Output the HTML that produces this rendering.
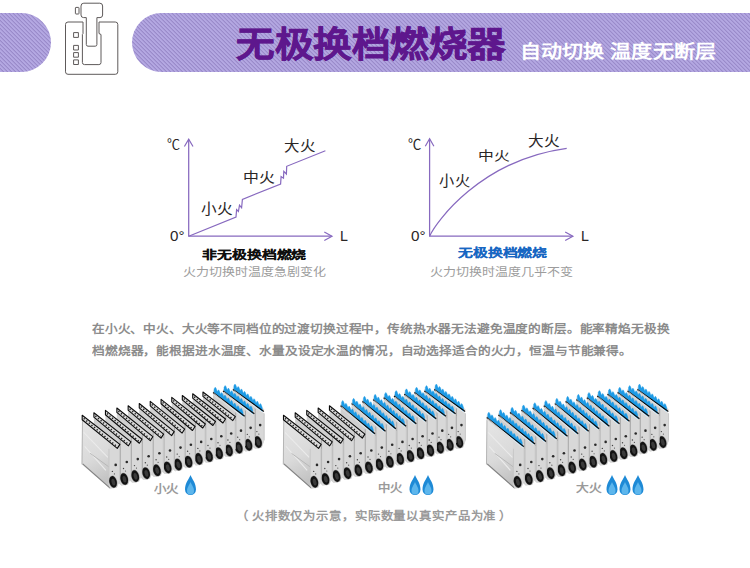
<!DOCTYPE html>
<html lang="zh-CN"><head><meta charset="utf-8">
<style>
*{margin:0;padding:0;box-sizing:border-box}
html,body{width:750px;height:568px;overflow:hidden;background:#fff}
body{position:relative;font-family:"Liberation Sans",sans-serif}
.stripe{background:repeating-linear-gradient(45deg,#b4a8e2 0,#b4a8e2 1.1px,#9a8bca 1.7px,#9a8bca 2.2px,#b4a8e2 2.83px)}
.pill1{position:absolute;left:-31px;top:13px;width:82px;height:59px;border-radius:30px}
.pill2{position:absolute;left:132px;top:13px;width:660px;height:59px;border-radius:30px}
svg{position:absolute;left:0;top:0}
.t{position:absolute;white-space:nowrap;transform-origin:0 0;line-height:normal}
</style></head><body>
<div class="pill1 stripe"></div>
<div class="pill2 stripe"></div>
<svg width="750" height="568" viewBox="0 0 750 568">
<defs>
<linearGradient id="sidea" x1="0" y1="0" x2="0.3" y2="1"><stop offset="0" stop-color="#e6e6e6"/><stop offset="0.6" stop-color="#dadada"/><stop offset="1" stop-color="#c2c2c2"/></linearGradient>
<linearGradient id="sideb" x1="0" y1="0" x2="0.3" y2="1"><stop offset="0" stop-color="#e6e6e6"/><stop offset="0.6" stop-color="#dadada"/><stop offset="1" stop-color="#c2c2c2"/></linearGradient>
<linearGradient id="sidec" x1="0" y1="0" x2="0.3" y2="1"><stop offset="0" stop-color="#e6e6e6"/><stop offset="0.6" stop-color="#dadada"/><stop offset="1" stop-color="#c2c2c2"/></linearGradient>
</defs>
<!-- shifter icon -->
<g fill="none" stroke="#5e5a5a" stroke-width="1" stroke-linejoin="round">
<path d="M83,22 H68 Q65.5,22 65.5,24.5 V71.8 Q65.5,74.3 68,74.3 H115.3 Q117.8,74.3 117.8,71.8 V24.5 Q117.8,22 115.3,22 H99"/>
<path d="M83,22 V33.5 L82.4,34.5 V62.5 Q82.4,64.6 84.5,64.6 H98.9 Q101,64.6 101,62.5 V34.5 L99,33.5 V22"/>
<path d="M86.3,17.6 V44.5 Q86.3,46.2 88,46.2 H95.2 Q96.9,46.2 96.9,44.5 V17.6 H100 Q102.6,17.6 102.6,15 V6 Q102.6,3.2 99.8,3.2 H83.8 Q81,3.2 81,6 V15 Q81,17.6 83.6,17.6 Z"/>
<rect x="75.4" y="7.4" width="3.6" height="6.6" rx="0.6"/>
<rect x="73.6" y="32.6" width="4.8" height="4.8"/>
<rect x="73.6" y="45.4" width="4.8" height="4.6"/>
<rect x="73.6" y="52.6" width="4.8" height="4.6"/>
<rect x="73.6" y="59.9" width="4.8" height="4.6"/>
</g>
<path d="M188.7,236.8 V139.6 M188.1,236.2 H331.5" stroke="#8769bf" stroke-width="1.25" fill="none"/><path d="M184.4,146.5 L188.7,139.1 L193,146.5" stroke="#8769bf" stroke-width="1.2" fill="none" stroke-linejoin="miter"/><path d="M324.3,231.9 L332,236.2 L324.3,240.5" stroke="#8769bf" stroke-width="1.2" fill="none" stroke-linejoin="miter"/><path d="M429.6,236.8 V139.3 M429,236.2 H572.4" stroke="#8769bf" stroke-width="1.25" fill="none"/><path d="M425.3,146.2 L429.6,138.8 L433.9,146.2" stroke="#8769bf" stroke-width="1.2" fill="none" stroke-linejoin="miter"/><path d="M565.2,231.9 L572.9,236.2 L565.2,240.5" stroke="#8769bf" stroke-width="1.2" fill="none" stroke-linejoin="miter"/><path d="M188.7,236.2 L236.0,217.0 L236.6,209.7 L238.4,211.5 L239.5,205.2 L241.6,207.8 L242.4,199.4 L280.6,184 L281.1,176.6 L283.5,178.2 L283.8,171.3 L286.4,174 L286.7,166.3 L325.4,150.7" stroke="#8769bf" stroke-width="1.2" fill="none" stroke-linejoin="miter" stroke-miterlimit="10"/><path d="M429.6,236.2 C436.07,222.03 480.51,159.97 566.7,148.3" stroke="#8769bf" stroke-width="1.2" fill="none"/>
<polygon points="232.85,391.66 264.38,413.6 264.38,440.08 261.8,447.58 255,448.68 232.35,429.26" fill="#d0d0d0"/>
<polygon points="254.84,406.93 264.38,413.6 264.38,440.08 261.8,447.58 255,448.68 254.84,444.08" fill="#d8d8d8"/>
<path d="M255.19,406.93 V443.08" stroke="#8f8f8f" stroke-width="0.7"/>
<path d="M264.08,413.6 V440.08" stroke="#c0c0c0" stroke-width="0.6"/>
<circle cx="260.18" cy="425.08" r="1.3" fill="#2a2a2a"/>
<circle cx="256.88" cy="431.58" r="0.7" fill="#444"/>
<circle cx="258.88" cy="434.08" r="0.6" fill="#555"/>
<ellipse cx="258" cy="442.08" rx="4.2" ry="6.4" fill="#a0a0a0" transform="rotate(-14 258 442.08)"/>
<ellipse cx="258" cy="442.08" rx="3.7" ry="5.9" fill="#121212" transform="rotate(-14 258 442.08)"/>
<ellipse cx="258.2" cy="442.38" rx="1.8" ry="3.4" fill="#3a3a3a" transform="rotate(-14 258 442.08)"/>
<polygon points="232.85,387.26 264.38,409.2 261.78,413.2 232.85,391.66" fill="#d9d9d9"/>
<polygon points="233.85,389.46 233.85,385.86 234.96,384.01 235.75,384.92 236.86,387.88 237.02,388.3 238.13,386.45 238.92,387.36 240.03,390.31 240.19,390.74 241.3,388.89 242.09,389.8 243.2,392.75 243.36,393.17 244.47,391.33 245.26,392.24 246.37,395.19 246.53,395.61 247.64,393.77 248.43,394.67 249.54,397.63 249.7,398.05 250.81,396.2 251.6,397.11 252.71,400.07 252.87,400.49 253.98,398.64 254.77,399.55 255.88,402.5 256.04,402.93 257.15,401.08 257.94,401.99 259.05,404.94 259.21,405.36 260.32,403.52 261.11,404.43 262.22,407.38 262.38,411.4" fill="#1d9ae5" stroke="#1d9ae5" stroke-width="0.4" stroke-linejoin="round"/>
<path d="M232.85,389.46 L263.88,411.4" stroke="#0e0e0e" stroke-width="1.2"/>
<path d="M233.85,390.56 L262.88,412.5" stroke="#f2f2f2" stroke-width="0.7"/>
<polygon points="223.03,393.16 254.84,416.05 254.84,442.86 252.23,450.36 245.43,451.46 222.53,431.26" fill="#d0d0d0"/>
<polygon points="245.18,409.29 254.84,416.05 254.84,442.86 252.23,450.36 245.43,451.46 245.18,446.86" fill="#d8d8d8"/>
<path d="M245.53,409.29 V445.86" stroke="#8f8f8f" stroke-width="0.7"/>
<path d="M254.54,416.05 V442.86" stroke="#c0c0c0" stroke-width="0.6"/>
<circle cx="250.64" cy="427.86" r="1.3" fill="#2a2a2a"/>
<circle cx="247.34" cy="434.36" r="0.7" fill="#444"/>
<circle cx="249.34" cy="436.86" r="0.6" fill="#555"/>
<ellipse cx="248.43" cy="444.86" rx="4.2" ry="6.4" fill="#a0a0a0" transform="rotate(-14 248.43 444.86)"/>
<ellipse cx="248.43" cy="444.86" rx="3.7" ry="5.9" fill="#121212" transform="rotate(-14 248.43 444.86)"/>
<ellipse cx="248.63" cy="445.16" rx="1.8" ry="3.4" fill="#3a3a3a" transform="rotate(-14 248.43 444.86)"/>
<polygon points="223.03,388.76 254.84,411.65 252.24,415.65 223.03,393.16" fill="#d9d9d9"/>
<polygon points="224.03,390.96 224.03,387.36 225.15,385.55 225.95,386.48 227.07,389.47 227.23,389.9 228.35,388.09 229.15,389.03 230.28,392.02 230.44,392.45 231.56,390.64 232.36,391.57 233.48,394.56 233.64,394.99 234.76,393.18 235.56,394.11 236.68,397.1 236.84,397.53 237.96,395.72 238.76,396.66 239.88,399.65 240.04,400.07 241.16,398.26 241.96,399.2 243.08,402.19 243.24,402.62 244.36,400.81 245.16,401.74 246.28,404.73 246.44,405.16 247.56,403.35 248.36,404.29 249.48,407.28 249.64,407.7 250.76,405.89 251.56,406.83 252.68,409.82 252.84,413.85" fill="#1d9ae5" stroke="#1d9ae5" stroke-width="0.4" stroke-linejoin="round"/>
<path d="M223.03,390.96 L254.34,413.85" stroke="#0e0e0e" stroke-width="1.2"/>
<path d="M224.03,392.06 L253.34,414.95" stroke="#f2f2f2" stroke-width="0.7"/>
<polygon points="213.07,394.74 245.18,418.5 245.18,445.64 242.54,453.14 235.74,454.24 212.57,433.34" fill="#d0d0d0"/>
<polygon points="235.41,411.66 245.18,418.5 245.18,445.64 242.54,453.14 235.74,454.24 235.41,449.64" fill="#d8d8d8"/>
<path d="M235.76,411.66 V448.64" stroke="#8f8f8f" stroke-width="0.7"/>
<path d="M244.88,418.5 V445.64" stroke="#c0c0c0" stroke-width="0.6"/>
<circle cx="240.98" cy="430.64" r="1.3" fill="#2a2a2a"/>
<circle cx="237.68" cy="437.14" r="0.7" fill="#444"/>
<circle cx="239.68" cy="439.64" r="0.6" fill="#555"/>
<ellipse cx="238.74" cy="447.64" rx="4.2" ry="6.4" fill="#a0a0a0" transform="rotate(-14 238.74 447.64)"/>
<ellipse cx="238.74" cy="447.64" rx="3.7" ry="5.9" fill="#121212" transform="rotate(-14 238.74 447.64)"/>
<ellipse cx="238.94" cy="447.94" rx="1.8" ry="3.4" fill="#3a3a3a" transform="rotate(-14 238.74 447.64)"/>
<polygon points="213.07,390.34 245.18,414.1 242.58,418.1 213.07,394.74" fill="#d9d9d9"/>
<polygon points="214.07,392.54 214.07,388.94 215.2,387.16 216.01,388.12 217.14,391.14 217.31,391.58 218.44,389.8 219.25,390.76 220.38,393.78 220.54,394.22 221.67,392.44 222.48,393.4 223.61,396.43 223.78,396.86 224.91,395.08 225.72,396.04 226.85,399.07 227.01,399.5 228.14,397.72 228.95,398.68 230.08,401.71 230.25,402.14 231.38,400.36 232.19,401.32 233.32,404.35 233.48,404.78 234.61,403 235.42,403.96 236.55,406.99 236.71,407.42 237.85,405.64 238.66,406.6 239.79,409.63 239.95,410.06 241.08,408.28 241.89,409.24 243.02,412.27 243.18,416.3" fill="#1d9ae5" stroke="#1d9ae5" stroke-width="0.4" stroke-linejoin="round"/>
<path d="M213.07,392.54 L244.68,416.3" stroke="#0e0e0e" stroke-width="1.2"/>
<path d="M214.07,393.64 L243.68,417.4" stroke="#f2f2f2" stroke-width="0.7"/>
<polygon points="202.96,396.39 235.41,420.97 235.41,448.44 232.74,455.94 225.94,457.04 202.46,435.49" fill="#d0d0d0"/>
<polygon points="225.51,414.04 235.41,420.97 235.41,448.44 232.74,455.94 225.94,457.04 225.51,452.44" fill="#d8d8d8"/>
<path d="M225.86,414.04 V451.44" stroke="#8f8f8f" stroke-width="0.7"/>
<path d="M235.11,420.97 V448.44" stroke="#c0c0c0" stroke-width="0.6"/>
<circle cx="231.21" cy="433.44" r="1.3" fill="#2a2a2a"/>
<circle cx="227.91" cy="439.94" r="0.7" fill="#444"/>
<circle cx="229.91" cy="442.44" r="0.6" fill="#555"/>
<ellipse cx="228.94" cy="450.44" rx="4.2" ry="6.4" fill="#a0a0a0" transform="rotate(-14 228.94 450.44)"/>
<ellipse cx="228.94" cy="450.44" rx="3.7" ry="5.9" fill="#121212" transform="rotate(-14 228.94 450.44)"/>
<ellipse cx="229.14" cy="450.74" rx="1.8" ry="3.4" fill="#3a3a3a" transform="rotate(-14 228.94 450.44)"/>
<polygon points="202.96,391.99 235.41,416.57 232.81,420.57 202.96,396.39" fill="#dadada" stroke="#0a0a0a" stroke-width="1.1" stroke-linejoin="round"/>
<path d="M204.46,395.09 L232.41,418.67" stroke="#262626" stroke-width="1.5" stroke-dasharray="1.3 2.1" fill="none"/>
<polygon points="192.71,398.12 225.51,423.44 225.51,451.24 222.81,458.74 216.01,459.84 192.21,437.72" fill="#d0d0d0"/>
<polygon points="215.49,416.43 225.51,423.44 225.51,451.24 222.81,458.74 216.01,459.84 215.49,455.24" fill="#d8d8d8"/>
<path d="M215.84,416.43 V454.24" stroke="#8f8f8f" stroke-width="0.7"/>
<path d="M225.21,423.44 V451.24" stroke="#c0c0c0" stroke-width="0.6"/>
<circle cx="221.31" cy="436.24" r="1.3" fill="#2a2a2a"/>
<circle cx="218.01" cy="442.74" r="0.7" fill="#444"/>
<circle cx="220.01" cy="445.24" r="0.6" fill="#555"/>
<ellipse cx="219.01" cy="453.24" rx="4.2" ry="6.4" fill="#a0a0a0" transform="rotate(-14 219.01 453.24)"/>
<ellipse cx="219.01" cy="453.24" rx="3.7" ry="5.9" fill="#121212" transform="rotate(-14 219.01 453.24)"/>
<ellipse cx="219.21" cy="453.54" rx="1.8" ry="3.4" fill="#3a3a3a" transform="rotate(-14 219.01 453.24)"/>
<polygon points="192.71,393.72 225.51,419.04 222.91,423.04 192.71,398.12" fill="#dadada" stroke="#0a0a0a" stroke-width="1.1" stroke-linejoin="round"/>
<path d="M194.21,396.82 L222.51,421.14" stroke="#262626" stroke-width="1.5" stroke-dasharray="1.3 2.1" fill="none"/>
<polygon points="182.31,399.93 215.49,425.93 215.49,454.06 212.76,461.56 205.96,462.66 181.81,440.03" fill="#d0d0d0"/>
<polygon points="205.35,418.83 215.49,425.93 215.49,454.06 212.76,461.56 205.96,462.66 205.35,458.06" fill="#d8d8d8"/>
<path d="M205.7,418.83 V457.06" stroke="#8f8f8f" stroke-width="0.7"/>
<path d="M215.19,425.93 V454.06" stroke="#c0c0c0" stroke-width="0.6"/>
<circle cx="211.29" cy="439.06" r="1.3" fill="#2a2a2a"/>
<circle cx="207.99" cy="445.56" r="0.7" fill="#444"/>
<circle cx="209.99" cy="448.06" r="0.6" fill="#555"/>
<ellipse cx="208.96" cy="456.06" rx="4.2" ry="6.4" fill="#a0a0a0" transform="rotate(-14 208.96 456.06)"/>
<ellipse cx="208.96" cy="456.06" rx="3.7" ry="5.9" fill="#121212" transform="rotate(-14 208.96 456.06)"/>
<ellipse cx="209.16" cy="456.36" rx="1.8" ry="3.4" fill="#3a3a3a" transform="rotate(-14 208.96 456.06)"/>
<polygon points="182.31,395.53 215.49,421.53 212.89,425.53 182.31,399.93" fill="#dadada" stroke="#0a0a0a" stroke-width="1.1" stroke-linejoin="round"/>
<path d="M183.81,398.63 L212.49,423.63" stroke="#262626" stroke-width="1.5" stroke-dasharray="1.3 2.1" fill="none"/>
<polygon points="171.77,401.82 205.35,428.43 205.35,456.89 202.59,464.39 195.79,465.49 171.27,442.42" fill="#d0d0d0"/>
<polygon points="195.09,421.25 205.35,428.43 205.35,456.89 202.59,464.39 195.79,465.49 195.09,460.89" fill="#d8d8d8"/>
<path d="M195.44,421.25 V459.89" stroke="#8f8f8f" stroke-width="0.7"/>
<path d="M205.05,428.43 V456.89" stroke="#c0c0c0" stroke-width="0.6"/>
<circle cx="201.15" cy="441.89" r="1.3" fill="#2a2a2a"/>
<circle cx="197.85" cy="448.39" r="0.7" fill="#444"/>
<circle cx="199.85" cy="450.89" r="0.6" fill="#555"/>
<ellipse cx="198.79" cy="458.89" rx="4.2" ry="6.4" fill="#a0a0a0" transform="rotate(-14 198.79 458.89)"/>
<ellipse cx="198.79" cy="458.89" rx="3.7" ry="5.9" fill="#121212" transform="rotate(-14 198.79 458.89)"/>
<ellipse cx="198.99" cy="459.19" rx="1.8" ry="3.4" fill="#3a3a3a" transform="rotate(-14 198.79 458.89)"/>
<polygon points="171.77,397.42 205.35,424.03 202.75,428.03 171.77,401.82" fill="#dadada" stroke="#0a0a0a" stroke-width="1.1" stroke-linejoin="round"/>
<path d="M173.27,400.52 L202.35,426.13" stroke="#262626" stroke-width="1.5" stroke-dasharray="1.3 2.1" fill="none"/>
<polygon points="161.08,403.78 195.09,430.94 195.09,459.73 192.3,467.23 185.5,468.33 160.58,444.88" fill="#d0d0d0"/>
<polygon points="184.71,423.67 195.09,430.94 195.09,459.73 192.3,467.23 185.5,468.33 184.71,463.73" fill="#d8d8d8"/>
<path d="M185.06,423.67 V462.73" stroke="#8f8f8f" stroke-width="0.7"/>
<path d="M194.79,430.94 V459.73" stroke="#c0c0c0" stroke-width="0.6"/>
<circle cx="190.89" cy="444.73" r="1.3" fill="#2a2a2a"/>
<circle cx="187.59" cy="451.23" r="0.7" fill="#444"/>
<circle cx="189.59" cy="453.73" r="0.6" fill="#555"/>
<ellipse cx="188.5" cy="461.73" rx="4.2" ry="6.4" fill="#a0a0a0" transform="rotate(-14 188.5 461.73)"/>
<ellipse cx="188.5" cy="461.73" rx="3.7" ry="5.9" fill="#121212" transform="rotate(-14 188.5 461.73)"/>
<ellipse cx="188.7" cy="462.03" rx="1.8" ry="3.4" fill="#3a3a3a" transform="rotate(-14 188.5 461.73)"/>
<polygon points="161.08,399.38 195.09,426.54 192.49,430.54 161.08,403.78" fill="#dadada" stroke="#0a0a0a" stroke-width="1.1" stroke-linejoin="round"/>
<path d="M162.58,402.48 L192.09,428.64" stroke="#262626" stroke-width="1.5" stroke-dasharray="1.3 2.1" fill="none"/>
<polygon points="150.24,405.82 184.71,433.46 184.71,462.58 181.89,470.08 175.09,471.18 149.74,447.42" fill="#d0d0d0"/>
<polygon points="174.21,426.11 184.71,433.46 184.71,462.58 181.89,470.08 175.09,471.18 174.21,466.58" fill="#d8d8d8"/>
<path d="M174.56,426.11 V465.58" stroke="#8f8f8f" stroke-width="0.7"/>
<path d="M184.41,433.46 V462.58" stroke="#c0c0c0" stroke-width="0.6"/>
<circle cx="180.51" cy="447.58" r="1.3" fill="#2a2a2a"/>
<circle cx="177.21" cy="454.08" r="0.7" fill="#444"/>
<circle cx="179.21" cy="456.58" r="0.6" fill="#555"/>
<ellipse cx="178.09" cy="464.58" rx="4.2" ry="6.4" fill="#a0a0a0" transform="rotate(-14 178.09 464.58)"/>
<ellipse cx="178.09" cy="464.58" rx="3.7" ry="5.9" fill="#121212" transform="rotate(-14 178.09 464.58)"/>
<ellipse cx="178.29" cy="464.88" rx="1.8" ry="3.4" fill="#3a3a3a" transform="rotate(-14 178.09 464.58)"/>
<polygon points="150.24,401.42 184.71,429.06 182.11,433.06 150.24,405.82" fill="#dadada" stroke="#0a0a0a" stroke-width="1.1" stroke-linejoin="round"/>
<path d="M151.74,404.52 L181.71,431.16" stroke="#262626" stroke-width="1.5" stroke-dasharray="1.3 2.1" fill="none"/>
<polygon points="139.26,407.94 174.21,435.99 174.21,465.44 171.36,472.94 164.56,474.04 138.76,450.04" fill="#d0d0d0"/>
<polygon points="163.59,428.55 174.21,435.99 174.21,465.44 171.36,472.94 164.56,474.04 163.59,469.44" fill="#d8d8d8"/>
<path d="M163.94,428.55 V468.44" stroke="#8f8f8f" stroke-width="0.7"/>
<path d="M173.91,435.99 V465.44" stroke="#c0c0c0" stroke-width="0.6"/>
<circle cx="170.01" cy="450.44" r="1.3" fill="#2a2a2a"/>
<circle cx="166.71" cy="456.94" r="0.7" fill="#444"/>
<circle cx="168.71" cy="459.44" r="0.6" fill="#555"/>
<ellipse cx="167.56" cy="467.44" rx="4.2" ry="6.4" fill="#a0a0a0" transform="rotate(-14 167.56 467.44)"/>
<ellipse cx="167.56" cy="467.44" rx="3.7" ry="5.9" fill="#121212" transform="rotate(-14 167.56 467.44)"/>
<ellipse cx="167.76" cy="467.74" rx="1.8" ry="3.4" fill="#3a3a3a" transform="rotate(-14 167.56 467.44)"/>
<polygon points="139.26,403.54 174.21,431.59 171.61,435.59 139.26,407.94" fill="#dadada" stroke="#0a0a0a" stroke-width="1.1" stroke-linejoin="round"/>
<path d="M140.76,406.64 L171.21,433.69" stroke="#262626" stroke-width="1.5" stroke-dasharray="1.3 2.1" fill="none"/>
<polygon points="128.14,410.14 163.59,438.53 163.59,468.31 160.71,475.81 153.91,476.91 127.64,452.74" fill="#d0d0d0"/>
<polygon points="152.84,431.01 163.59,438.53 163.59,468.31 160.71,475.81 153.91,476.91 152.84,472.31" fill="#d8d8d8"/>
<path d="M153.19,431.01 V471.31" stroke="#8f8f8f" stroke-width="0.7"/>
<path d="M163.29,438.53 V468.31" stroke="#c0c0c0" stroke-width="0.6"/>
<circle cx="159.39" cy="453.31" r="1.3" fill="#2a2a2a"/>
<circle cx="156.09" cy="459.81" r="0.7" fill="#444"/>
<circle cx="158.09" cy="462.31" r="0.6" fill="#555"/>
<ellipse cx="156.91" cy="470.31" rx="4.2" ry="6.4" fill="#a0a0a0" transform="rotate(-14 156.91 470.31)"/>
<ellipse cx="156.91" cy="470.31" rx="3.7" ry="5.9" fill="#121212" transform="rotate(-14 156.91 470.31)"/>
<ellipse cx="157.11" cy="470.61" rx="1.8" ry="3.4" fill="#3a3a3a" transform="rotate(-14 156.91 470.31)"/>
<polygon points="128.14,405.74 163.59,434.13 160.99,438.13 128.14,410.14" fill="#dadada" stroke="#0a0a0a" stroke-width="1.1" stroke-linejoin="round"/>
<path d="M129.64,408.84 L160.59,436.23" stroke="#262626" stroke-width="1.5" stroke-dasharray="1.3 2.1" fill="none"/>
<polygon points="116.87,412.41 152.84,441.08 152.84,471.19 149.93,478.69 143.13,479.79 116.37,455.51" fill="#d0d0d0"/>
<polygon points="141.98,433.48 152.84,441.08 152.84,471.19 149.93,478.69 143.13,479.79 141.98,475.19" fill="#d8d8d8"/>
<path d="M142.33,433.48 V474.19" stroke="#8f8f8f" stroke-width="0.7"/>
<path d="M152.54,441.08 V471.19" stroke="#c0c0c0" stroke-width="0.6"/>
<circle cx="148.64" cy="456.19" r="1.3" fill="#2a2a2a"/>
<circle cx="145.34" cy="462.69" r="0.7" fill="#444"/>
<circle cx="147.34" cy="465.19" r="0.6" fill="#555"/>
<ellipse cx="146.13" cy="473.19" rx="4.2" ry="6.4" fill="#a0a0a0" transform="rotate(-14 146.13 473.19)"/>
<ellipse cx="146.13" cy="473.19" rx="3.7" ry="5.9" fill="#121212" transform="rotate(-14 146.13 473.19)"/>
<ellipse cx="146.33" cy="473.49" rx="1.8" ry="3.4" fill="#3a3a3a" transform="rotate(-14 146.13 473.19)"/>
<polygon points="116.87,408.01 152.84,436.68 150.24,440.68 116.87,412.41" fill="#dadada" stroke="#0a0a0a" stroke-width="1.1" stroke-linejoin="round"/>
<path d="M118.37,411.11 L149.84,438.78" stroke="#262626" stroke-width="1.5" stroke-dasharray="1.3 2.1" fill="none"/>
<polygon points="105.45,414.76 141.98,443.64 141.98,474.08 139.04,481.58 132.24,482.68 104.95,458.36" fill="#d0d0d0"/>
<polygon points="131,435.95 141.98,443.64 141.98,474.08 139.04,481.58 132.24,482.68 131,478.08" fill="#d8d8d8"/>
<path d="M131.35,435.95 V477.08" stroke="#8f8f8f" stroke-width="0.7"/>
<path d="M141.68,443.64 V474.08" stroke="#c0c0c0" stroke-width="0.6"/>
<circle cx="137.78" cy="459.08" r="1.3" fill="#2a2a2a"/>
<circle cx="134.48" cy="465.58" r="0.7" fill="#444"/>
<circle cx="136.48" cy="468.08" r="0.6" fill="#555"/>
<ellipse cx="135.24" cy="476.08" rx="4.2" ry="6.4" fill="#a0a0a0" transform="rotate(-14 135.24 476.08)"/>
<ellipse cx="135.24" cy="476.08" rx="3.7" ry="5.9" fill="#121212" transform="rotate(-14 135.24 476.08)"/>
<ellipse cx="135.44" cy="476.38" rx="1.8" ry="3.4" fill="#3a3a3a" transform="rotate(-14 135.24 476.08)"/>
<polygon points="105.45,410.36 141.98,439.24 139.38,443.24 105.45,414.76" fill="#dadada" stroke="#0a0a0a" stroke-width="1.1" stroke-linejoin="round"/>
<path d="M106.95,413.46 L138.98,441.34" stroke="#262626" stroke-width="1.5" stroke-dasharray="1.3 2.1" fill="none"/>
<polygon points="93.89,417.19 131,446.22 131,476.99 128.03,484.49 121.23,485.59 93.39,461.29" fill="#d0d0d0"/>
<polygon points="119.89,438.44 131,446.22 131,476.99 128.03,484.49 121.23,485.59 119.89,480.99" fill="#d8d8d8"/>
<path d="M120.24,438.44 V479.99" stroke="#8f8f8f" stroke-width="0.7"/>
<path d="M130.7,446.22 V476.99" stroke="#c0c0c0" stroke-width="0.6"/>
<circle cx="126.8" cy="461.99" r="1.3" fill="#2a2a2a"/>
<circle cx="123.5" cy="468.49" r="0.7" fill="#444"/>
<circle cx="125.5" cy="470.99" r="0.6" fill="#555"/>
<ellipse cx="124.23" cy="478.99" rx="4.2" ry="6.4" fill="#a0a0a0" transform="rotate(-14 124.23 478.99)"/>
<ellipse cx="124.23" cy="478.99" rx="3.7" ry="5.9" fill="#121212" transform="rotate(-14 124.23 478.99)"/>
<ellipse cx="124.43" cy="479.29" rx="1.8" ry="3.4" fill="#3a3a3a" transform="rotate(-14 124.23 478.99)"/>
<polygon points="93.89,412.79 131,441.82 128.4,445.82 93.89,417.19" fill="#dadada" stroke="#0a0a0a" stroke-width="1.1" stroke-linejoin="round"/>
<path d="M95.39,415.89 L128,443.92" stroke="#262626" stroke-width="1.5" stroke-dasharray="1.3 2.1" fill="none"/>
<polygon points="82.18,419.7 119.89,448.8 119.89,479.9 116.89,487.4 110.09,488.5 81.68,464.3" fill="url(#sidea)"/>
<path d="M83.68,432.3 L107.89,457.4 M84.68,446.3 L105.89,470.4" stroke="#ebebeb" stroke-width="1.1" fill="none"/>
<path d="M90.18,453.3 L110.89,468.4" stroke="#b8b8b8" stroke-width="1" fill="none"/>
<path d="M82.68,463.8 L110.09,488.1" stroke="#808080" stroke-width="1.1" fill="none"/>
<path d="M82.48,419.7 L81.98,464.3" stroke="#a0a0a0" stroke-width="0.7" fill="none"/>
<polygon points="108.59,440.89 119.89,448.8 119.89,479.9 116.89,487.4 110.09,488.5 108.59,483.9" fill="#d8d8d8"/>
<path d="M108.94,448.8 V482.9" stroke="#bdbdbd" stroke-width="0.6"/>
<path d="M119.59,448.8 V479.9" stroke="#c0c0c0" stroke-width="0.6"/>
<circle cx="115.69" cy="464.9" r="1.3" fill="#2a2a2a"/>
<circle cx="112.39" cy="471.4" r="0.7" fill="#444"/>
<circle cx="114.39" cy="473.9" r="0.6" fill="#555"/>
<ellipse cx="113.09" cy="481.9" rx="4.2" ry="6.4" fill="#a0a0a0" transform="rotate(-14 113.09 481.9)"/>
<ellipse cx="113.09" cy="481.9" rx="3.7" ry="5.9" fill="#121212" transform="rotate(-14 113.09 481.9)"/>
<ellipse cx="113.29" cy="482.2" rx="1.8" ry="3.4" fill="#3a3a3a" transform="rotate(-14 113.09 481.9)"/>
<polygon points="82.18,415.3 119.89,444.4 117.29,448.4 82.18,419.7" fill="#dadada" stroke="#0a0a0a" stroke-width="1.1" stroke-linejoin="round"/>
<path d="M83.68,418.4 L116.89,446.5" stroke="#262626" stroke-width="1.5" stroke-dasharray="1.3 2.1" fill="none"/>
<polygon points="434.15,391.66 465.68,413.6 465.68,440.08 463.1,447.58 456.3,448.68 433.65,429.26" fill="#d0d0d0"/>
<polygon points="456.14,406.93 465.68,413.6 465.68,440.08 463.1,447.58 456.3,448.68 456.14,444.08" fill="#d8d8d8"/>
<path d="M456.49,406.93 V443.08" stroke="#8f8f8f" stroke-width="0.7"/>
<path d="M465.38,413.6 V440.08" stroke="#c0c0c0" stroke-width="0.6"/>
<circle cx="461.48" cy="425.08" r="1.3" fill="#2a2a2a"/>
<circle cx="458.18" cy="431.58" r="0.7" fill="#444"/>
<circle cx="460.18" cy="434.08" r="0.6" fill="#555"/>
<ellipse cx="459.3" cy="442.08" rx="4.2" ry="6.4" fill="#a0a0a0" transform="rotate(-14 459.3 442.08)"/>
<ellipse cx="459.3" cy="442.08" rx="3.7" ry="5.9" fill="#121212" transform="rotate(-14 459.3 442.08)"/>
<ellipse cx="459.5" cy="442.38" rx="1.8" ry="3.4" fill="#3a3a3a" transform="rotate(-14 459.3 442.08)"/>
<polygon points="434.15,387.26 465.68,409.2 463.08,413.2 434.15,391.66" fill="#d9d9d9"/>
<polygon points="435.15,389.46 435.15,385.86 436.26,384.01 437.05,384.92 438.16,387.88 438.32,388.3 439.43,386.45 440.22,387.36 441.33,390.31 441.49,390.74 442.6,388.89 443.39,389.8 444.5,392.75 444.66,393.17 445.77,391.33 446.56,392.24 447.67,395.19 447.83,395.61 448.94,393.77 449.73,394.67 450.84,397.63 451,398.05 452.11,396.2 452.9,397.11 454.01,400.07 454.17,400.49 455.28,398.64 456.07,399.55 457.18,402.5 457.34,402.93 458.45,401.08 459.24,401.99 460.35,404.94 460.51,405.36 461.62,403.52 462.41,404.43 463.52,407.38 463.68,411.4" fill="#1d9ae5" stroke="#1d9ae5" stroke-width="0.4" stroke-linejoin="round"/>
<path d="M434.15,389.46 L465.18,411.4" stroke="#0e0e0e" stroke-width="1.2"/>
<path d="M435.15,390.56 L464.18,412.5" stroke="#f2f2f2" stroke-width="0.7"/>
<polygon points="424.33,393.16 456.14,416.05 456.14,442.86 453.53,450.36 446.73,451.46 423.83,431.26" fill="#d0d0d0"/>
<polygon points="446.48,409.29 456.14,416.05 456.14,442.86 453.53,450.36 446.73,451.46 446.48,446.86" fill="#d8d8d8"/>
<path d="M446.83,409.29 V445.86" stroke="#8f8f8f" stroke-width="0.7"/>
<path d="M455.84,416.05 V442.86" stroke="#c0c0c0" stroke-width="0.6"/>
<circle cx="451.94" cy="427.86" r="1.3" fill="#2a2a2a"/>
<circle cx="448.64" cy="434.36" r="0.7" fill="#444"/>
<circle cx="450.64" cy="436.86" r="0.6" fill="#555"/>
<ellipse cx="449.73" cy="444.86" rx="4.2" ry="6.4" fill="#a0a0a0" transform="rotate(-14 449.73 444.86)"/>
<ellipse cx="449.73" cy="444.86" rx="3.7" ry="5.9" fill="#121212" transform="rotate(-14 449.73 444.86)"/>
<ellipse cx="449.93" cy="445.16" rx="1.8" ry="3.4" fill="#3a3a3a" transform="rotate(-14 449.73 444.86)"/>
<polygon points="424.33,388.76 456.14,411.65 453.54,415.65 424.33,393.16" fill="#d9d9d9"/>
<polygon points="425.33,390.96 425.33,387.36 426.45,385.55 427.25,386.48 428.37,389.47 428.53,389.9 429.65,388.09 430.45,389.03 431.58,392.02 431.74,392.45 432.86,390.64 433.66,391.57 434.78,394.56 434.94,394.99 436.06,393.18 436.86,394.11 437.98,397.1 438.14,397.53 439.26,395.72 440.06,396.66 441.18,399.65 441.34,400.07 442.46,398.26 443.26,399.2 444.38,402.19 444.54,402.62 445.66,400.81 446.46,401.74 447.58,404.73 447.74,405.16 448.86,403.35 449.66,404.29 450.78,407.28 450.94,407.7 452.06,405.89 452.86,406.83 453.98,409.82 454.14,413.85" fill="#1d9ae5" stroke="#1d9ae5" stroke-width="0.4" stroke-linejoin="round"/>
<path d="M424.33,390.96 L455.64,413.85" stroke="#0e0e0e" stroke-width="1.2"/>
<path d="M425.33,392.06 L454.64,414.95" stroke="#f2f2f2" stroke-width="0.7"/>
<polygon points="414.37,394.74 446.48,418.5 446.48,445.64 443.84,453.14 437.04,454.24 413.87,433.34" fill="#d0d0d0"/>
<polygon points="436.71,411.66 446.48,418.5 446.48,445.64 443.84,453.14 437.04,454.24 436.71,449.64" fill="#d8d8d8"/>
<path d="M437.06,411.66 V448.64" stroke="#8f8f8f" stroke-width="0.7"/>
<path d="M446.18,418.5 V445.64" stroke="#c0c0c0" stroke-width="0.6"/>
<circle cx="442.28" cy="430.64" r="1.3" fill="#2a2a2a"/>
<circle cx="438.98" cy="437.14" r="0.7" fill="#444"/>
<circle cx="440.98" cy="439.64" r="0.6" fill="#555"/>
<ellipse cx="440.04" cy="447.64" rx="4.2" ry="6.4" fill="#a0a0a0" transform="rotate(-14 440.04 447.64)"/>
<ellipse cx="440.04" cy="447.64" rx="3.7" ry="5.9" fill="#121212" transform="rotate(-14 440.04 447.64)"/>
<ellipse cx="440.24" cy="447.94" rx="1.8" ry="3.4" fill="#3a3a3a" transform="rotate(-14 440.04 447.64)"/>
<polygon points="414.37,390.34 446.48,414.1 443.88,418.1 414.37,394.74" fill="#d9d9d9"/>
<polygon points="415.37,392.54 415.37,388.94 416.5,387.16 417.31,388.12 418.44,391.14 418.61,391.58 419.74,389.8 420.55,390.76 421.68,393.78 421.84,394.22 422.97,392.44 423.78,393.4 424.91,396.43 425.08,396.86 426.21,395.08 427.02,396.04 428.15,399.07 428.31,399.5 429.44,397.72 430.25,398.68 431.38,401.71 431.55,402.14 432.68,400.36 433.49,401.32 434.62,404.35 434.78,404.78 435.91,403 436.72,403.96 437.85,406.99 438.01,407.42 439.15,405.64 439.96,406.6 441.09,409.63 441.25,410.06 442.38,408.28 443.19,409.24 444.32,412.27 444.48,416.3" fill="#1d9ae5" stroke="#1d9ae5" stroke-width="0.4" stroke-linejoin="round"/>
<path d="M414.37,392.54 L445.98,416.3" stroke="#0e0e0e" stroke-width="1.2"/>
<path d="M415.37,393.64 L444.98,417.4" stroke="#f2f2f2" stroke-width="0.7"/>
<polygon points="404.26,396.39 436.71,420.97 436.71,448.44 434.04,455.94 427.24,457.04 403.76,435.49" fill="#d0d0d0"/>
<polygon points="426.81,414.04 436.71,420.97 436.71,448.44 434.04,455.94 427.24,457.04 426.81,452.44" fill="#d8d8d8"/>
<path d="M427.16,414.04 V451.44" stroke="#8f8f8f" stroke-width="0.7"/>
<path d="M436.41,420.97 V448.44" stroke="#c0c0c0" stroke-width="0.6"/>
<circle cx="432.51" cy="433.44" r="1.3" fill="#2a2a2a"/>
<circle cx="429.21" cy="439.94" r="0.7" fill="#444"/>
<circle cx="431.21" cy="442.44" r="0.6" fill="#555"/>
<ellipse cx="430.24" cy="450.44" rx="4.2" ry="6.4" fill="#a0a0a0" transform="rotate(-14 430.24 450.44)"/>
<ellipse cx="430.24" cy="450.44" rx="3.7" ry="5.9" fill="#121212" transform="rotate(-14 430.24 450.44)"/>
<ellipse cx="430.44" cy="450.74" rx="1.8" ry="3.4" fill="#3a3a3a" transform="rotate(-14 430.24 450.44)"/>
<polygon points="404.26,391.99 436.71,416.57 434.11,420.57 404.26,396.39" fill="#d9d9d9"/>
<polygon points="405.26,394.19 405.26,390.59 406.41,388.84 407.23,389.83 408.37,392.88 408.53,393.32 409.68,391.58 410.5,392.56 411.64,395.61 411.81,396.05 412.95,394.31 413.77,395.29 414.91,398.35 415.08,398.78 416.22,397.04 417.04,398.02 418.19,401.08 418.35,401.51 419.49,399.77 420.31,400.75 421.46,403.81 421.62,404.24 422.77,402.5 423.58,403.48 424.73,406.54 424.89,406.97 426.04,405.23 426.86,406.21 428,409.27 428.16,409.71 429.31,407.96 430.13,408.94 431.27,412 431.44,412.44 432.58,410.69 433.4,411.67 434.54,414.73 434.71,418.77" fill="#1d9ae5" stroke="#1d9ae5" stroke-width="0.4" stroke-linejoin="round"/>
<path d="M404.26,394.19 L436.21,418.77" stroke="#0e0e0e" stroke-width="1.2"/>
<path d="M405.26,395.29 L435.21,419.87" stroke="#f2f2f2" stroke-width="0.7"/>
<polygon points="394.01,398.12 426.81,423.44 426.81,451.24 424.11,458.74 417.31,459.84 393.51,437.72" fill="#d0d0d0"/>
<polygon points="416.79,416.43 426.81,423.44 426.81,451.24 424.11,458.74 417.31,459.84 416.79,455.24" fill="#d8d8d8"/>
<path d="M417.14,416.43 V454.24" stroke="#8f8f8f" stroke-width="0.7"/>
<path d="M426.51,423.44 V451.24" stroke="#c0c0c0" stroke-width="0.6"/>
<circle cx="422.61" cy="436.24" r="1.3" fill="#2a2a2a"/>
<circle cx="419.31" cy="442.74" r="0.7" fill="#444"/>
<circle cx="421.31" cy="445.24" r="0.6" fill="#555"/>
<ellipse cx="420.31" cy="453.24" rx="4.2" ry="6.4" fill="#a0a0a0" transform="rotate(-14 420.31 453.24)"/>
<ellipse cx="420.31" cy="453.24" rx="3.7" ry="5.9" fill="#121212" transform="rotate(-14 420.31 453.24)"/>
<ellipse cx="420.51" cy="453.54" rx="1.8" ry="3.4" fill="#3a3a3a" transform="rotate(-14 420.31 453.24)"/>
<polygon points="394.01,393.72 426.81,419.04 424.21,423.04 394.01,398.12" fill="#d9d9d9"/>
<polygon points="395.01,395.92 395.01,392.32 396.17,390.6 397,391.61 398.16,394.69 398.32,395.13 399.48,393.42 400.31,394.42 401.47,397.51 401.63,397.95 402.79,396.23 403.62,397.24 404.78,400.32 404.94,400.76 406.1,399.05 406.93,400.05 408.09,403.13 408.25,403.58 409.41,401.86 410.24,402.86 411.4,405.95 411.57,406.39 412.72,404.67 413.55,405.68 414.71,408.76 414.88,409.2 416.04,407.49 416.86,408.49 418.02,411.58 418.19,412.02 419.35,410.3 420.17,411.3 421.33,414.39 421.5,414.83 422.66,413.12 423.49,414.12 424.64,417.2 424.81,421.24" fill="#1d9ae5" stroke="#1d9ae5" stroke-width="0.4" stroke-linejoin="round"/>
<path d="M394.01,395.92 L426.31,421.24" stroke="#0e0e0e" stroke-width="1.2"/>
<path d="M395.01,397.02 L425.31,422.34" stroke="#f2f2f2" stroke-width="0.7"/>
<polygon points="383.61,399.93 416.79,425.93 416.79,454.06 414.06,461.56 407.26,462.66 383.11,440.03" fill="#d0d0d0"/>
<polygon points="406.65,418.83 416.79,425.93 416.79,454.06 414.06,461.56 407.26,462.66 406.65,458.06" fill="#d8d8d8"/>
<path d="M407,418.83 V457.06" stroke="#8f8f8f" stroke-width="0.7"/>
<path d="M416.49,425.93 V454.06" stroke="#c0c0c0" stroke-width="0.6"/>
<circle cx="412.59" cy="439.06" r="1.3" fill="#2a2a2a"/>
<circle cx="409.29" cy="445.56" r="0.7" fill="#444"/>
<circle cx="411.29" cy="448.06" r="0.6" fill="#555"/>
<ellipse cx="410.26" cy="456.06" rx="4.2" ry="6.4" fill="#a0a0a0" transform="rotate(-14 410.26 456.06)"/>
<ellipse cx="410.26" cy="456.06" rx="3.7" ry="5.9" fill="#121212" transform="rotate(-14 410.26 456.06)"/>
<ellipse cx="410.46" cy="456.36" rx="1.8" ry="3.4" fill="#3a3a3a" transform="rotate(-14 410.26 456.06)"/>
<polygon points="383.61,395.53 416.79,421.53 414.19,425.53 383.61,399.93" fill="#d9d9d9"/>
<polygon points="384.61,397.73 384.61,394.13 385.78,392.44 386.62,393.46 387.8,396.57 387.96,397.02 389.14,395.33 389.98,396.35 391.15,399.46 391.32,399.91 392.49,398.22 393.33,399.24 394.5,402.35 394.67,402.8 395.85,401.11 396.68,402.13 397.86,405.24 398.02,405.69 399.2,404 400.04,405.02 401.21,408.13 401.38,408.57 402.55,406.89 403.39,407.91 404.56,411.02 404.73,411.46 405.91,409.78 406.74,410.8 407.92,413.91 408.08,414.35 409.26,412.66 410.1,413.69 411.27,416.8 411.44,417.24 412.61,415.55 413.45,416.58 414.62,419.69 414.79,423.73" fill="#1d9ae5" stroke="#1d9ae5" stroke-width="0.4" stroke-linejoin="round"/>
<path d="M383.61,397.73 L416.29,423.73" stroke="#0e0e0e" stroke-width="1.2"/>
<path d="M384.61,398.83 L415.29,424.83" stroke="#f2f2f2" stroke-width="0.7"/>
<polygon points="373.07,401.82 406.65,428.43 406.65,456.89 403.89,464.39 397.09,465.49 372.57,442.42" fill="#d0d0d0"/>
<polygon points="396.39,421.25 406.65,428.43 406.65,456.89 403.89,464.39 397.09,465.49 396.39,460.89" fill="#d8d8d8"/>
<path d="M396.74,421.25 V459.89" stroke="#8f8f8f" stroke-width="0.7"/>
<path d="M406.35,428.43 V456.89" stroke="#c0c0c0" stroke-width="0.6"/>
<circle cx="402.45" cy="441.89" r="1.3" fill="#2a2a2a"/>
<circle cx="399.15" cy="448.39" r="0.7" fill="#444"/>
<circle cx="401.15" cy="450.89" r="0.6" fill="#555"/>
<ellipse cx="400.09" cy="458.89" rx="4.2" ry="6.4" fill="#a0a0a0" transform="rotate(-14 400.09 458.89)"/>
<ellipse cx="400.09" cy="458.89" rx="3.7" ry="5.9" fill="#121212" transform="rotate(-14 400.09 458.89)"/>
<ellipse cx="400.29" cy="459.19" rx="1.8" ry="3.4" fill="#3a3a3a" transform="rotate(-14 400.09 458.89)"/>
<polygon points="373.07,397.42 406.65,424.03 404.05,428.03 373.07,401.82" fill="#d9d9d9"/>
<polygon points="374.07,399.62 374.07,396.02 375.14,394.25 375.9,395.21 376.97,398.24 377.13,398.68 378.2,396.91 378.96,397.87 380.03,400.91 380.18,401.34 381.25,399.57 382.02,400.53 383.09,403.57 383.24,404 384.31,402.23 385.08,403.2 386.15,406.23 386.3,406.66 387.37,404.89 388.14,405.86 389.21,408.89 389.36,409.32 390.43,407.55 391.19,408.52 392.27,411.55 392.42,411.98 393.49,410.22 394.25,411.18 395.32,414.21 395.48,414.65 396.55,412.88 397.31,413.84 398.38,416.87 398.54,417.31 399.61,415.54 400.37,416.5 401.44,419.54 401.59,419.97 402.66,418.2 403.43,419.17 404.5,422.2 404.65,426.23" fill="#1d9ae5" stroke="#1d9ae5" stroke-width="0.4" stroke-linejoin="round"/>
<path d="M373.07,399.62 L406.15,426.23" stroke="#0e0e0e" stroke-width="1.2"/>
<path d="M374.07,400.72 L405.15,427.33" stroke="#f2f2f2" stroke-width="0.7"/>
<polygon points="362.38,403.78 396.39,430.94 396.39,459.73 393.6,467.23 386.8,468.33 361.88,444.88" fill="#d0d0d0"/>
<polygon points="386.01,423.67 396.39,430.94 396.39,459.73 393.6,467.23 386.8,468.33 386.01,463.73" fill="#d8d8d8"/>
<path d="M386.36,423.67 V462.73" stroke="#8f8f8f" stroke-width="0.7"/>
<path d="M396.09,430.94 V459.73" stroke="#c0c0c0" stroke-width="0.6"/>
<circle cx="392.19" cy="444.73" r="1.3" fill="#2a2a2a"/>
<circle cx="388.89" cy="451.23" r="0.7" fill="#444"/>
<circle cx="390.89" cy="453.73" r="0.6" fill="#555"/>
<ellipse cx="389.8" cy="461.73" rx="4.2" ry="6.4" fill="#a0a0a0" transform="rotate(-14 389.8 461.73)"/>
<ellipse cx="389.8" cy="461.73" rx="3.7" ry="5.9" fill="#121212" transform="rotate(-14 389.8 461.73)"/>
<ellipse cx="390" cy="462.03" rx="1.8" ry="3.4" fill="#3a3a3a" transform="rotate(-14 389.8 461.73)"/>
<polygon points="362.38,399.38 396.39,426.54 393.79,430.54 362.38,403.78" fill="#d9d9d9"/>
<polygon points="363.38,401.58 363.38,397.98 364.46,396.23 365.24,397.21 366.32,400.26 366.48,400.7 367.56,398.95 368.34,399.92 369.43,402.98 369.58,403.41 370.67,401.66 371.44,402.64 372.53,405.69 372.68,406.13 373.77,404.38 374.54,405.36 375.63,408.41 375.78,408.84 376.87,407.09 377.64,408.07 378.73,411.12 378.89,411.56 379.97,409.81 380.75,410.79 381.83,413.84 381.99,414.27 383.07,412.53 383.85,413.5 384.93,416.56 385.09,416.99 386.17,415.24 386.95,416.22 388.03,419.27 388.19,419.71 389.27,417.96 390.05,418.94 391.14,421.99 391.29,422.42 392.38,420.67 393.15,421.65 394.24,424.7 394.39,428.74" fill="#1d9ae5" stroke="#1d9ae5" stroke-width="0.4" stroke-linejoin="round"/>
<path d="M362.38,401.58 L395.89,428.74" stroke="#0e0e0e" stroke-width="1.2"/>
<path d="M363.38,402.68 L394.89,429.84" stroke="#f2f2f2" stroke-width="0.7"/>
<polygon points="351.54,405.82 386.01,433.46 386.01,462.58 383.19,470.08 376.39,471.18 351.04,447.42" fill="#d0d0d0"/>
<polygon points="375.51,426.11 386.01,433.46 386.01,462.58 383.19,470.08 376.39,471.18 375.51,466.58" fill="#d8d8d8"/>
<path d="M375.86,426.11 V465.58" stroke="#8f8f8f" stroke-width="0.7"/>
<path d="M385.71,433.46 V462.58" stroke="#c0c0c0" stroke-width="0.6"/>
<circle cx="381.81" cy="447.58" r="1.3" fill="#2a2a2a"/>
<circle cx="378.51" cy="454.08" r="0.7" fill="#444"/>
<circle cx="380.51" cy="456.58" r="0.6" fill="#555"/>
<ellipse cx="379.39" cy="464.58" rx="4.2" ry="6.4" fill="#a0a0a0" transform="rotate(-14 379.39 464.58)"/>
<ellipse cx="379.39" cy="464.58" rx="3.7" ry="5.9" fill="#121212" transform="rotate(-14 379.39 464.58)"/>
<ellipse cx="379.59" cy="464.88" rx="1.8" ry="3.4" fill="#3a3a3a" transform="rotate(-14 379.39 464.58)"/>
<polygon points="351.54,401.42 386.01,429.06 383.41,433.06 351.54,405.82" fill="#d9d9d9"/>
<polygon points="352.54,403.62 352.54,400.02 353.64,398.29 354.43,399.28 355.53,402.35 355.69,402.78 356.79,401.05 357.58,402.04 358.68,405.11 358.84,405.55 359.94,403.82 360.72,404.81 361.83,407.87 361.98,408.31 363.08,406.58 363.87,407.57 364.97,410.64 365.13,411.08 366.23,409.34 367.02,410.33 368.12,413.4 368.28,413.84 369.38,412.11 370.17,413.1 371.27,416.17 371.42,416.6 372.53,414.87 373.31,415.86 374.41,418.93 374.57,419.37 375.67,417.63 376.46,418.63 377.56,421.69 377.72,422.13 378.82,420.4 379.61,421.39 380.71,424.46 380.86,424.89 381.97,423.16 382.75,424.15 383.85,427.22 384.01,431.26" fill="#1d9ae5" stroke="#1d9ae5" stroke-width="0.4" stroke-linejoin="round"/>
<path d="M351.54,403.62 L385.51,431.26" stroke="#0e0e0e" stroke-width="1.2"/>
<path d="M352.54,404.72 L384.51,432.36" stroke="#f2f2f2" stroke-width="0.7"/>
<polygon points="340.56,407.94 375.51,435.99 375.51,465.44 372.66,472.94 365.86,474.04 340.06,450.04" fill="#d0d0d0"/>
<polygon points="364.89,428.55 375.51,435.99 375.51,465.44 372.66,472.94 365.86,474.04 364.89,469.44" fill="#d8d8d8"/>
<path d="M365.24,428.55 V468.44" stroke="#8f8f8f" stroke-width="0.7"/>
<path d="M375.21,435.99 V465.44" stroke="#c0c0c0" stroke-width="0.6"/>
<circle cx="371.31" cy="450.44" r="1.3" fill="#2a2a2a"/>
<circle cx="368.01" cy="456.94" r="0.7" fill="#444"/>
<circle cx="370.01" cy="459.44" r="0.6" fill="#555"/>
<ellipse cx="368.86" cy="467.44" rx="4.2" ry="6.4" fill="#a0a0a0" transform="rotate(-14 368.86 467.44)"/>
<ellipse cx="368.86" cy="467.44" rx="3.7" ry="5.9" fill="#121212" transform="rotate(-14 368.86 467.44)"/>
<ellipse cx="369.06" cy="467.74" rx="1.8" ry="3.4" fill="#3a3a3a" transform="rotate(-14 368.86 467.44)"/>
<polygon points="340.56,403.54 375.51,431.59 372.91,435.59 340.56,407.94" fill="#d9d9d9"/>
<polygon points="341.56,405.74 341.56,402.14 342.68,400.42 343.48,401.42 344.6,404.5 344.76,404.94 345.88,403.23 346.67,404.23 347.79,407.31 347.95,407.75 349.07,406.03 349.87,407.03 350.99,410.11 351.15,410.55 352.26,408.84 353.06,409.84 354.18,412.92 354.34,413.36 355.46,411.64 356.26,412.64 357.38,415.72 357.54,416.16 358.65,414.45 359.45,415.45 360.57,418.53 360.73,418.97 361.85,417.25 362.65,418.25 363.77,421.33 363.93,421.77 365.04,420.06 365.84,421.06 366.96,424.14 367.12,424.58 368.24,422.86 369.04,423.86 370.16,426.94 370.32,427.38 371.43,425.67 372.23,426.67 373.35,429.75 373.51,433.79" fill="#1d9ae5" stroke="#1d9ae5" stroke-width="0.4" stroke-linejoin="round"/>
<path d="M340.56,405.74 L375.01,433.79" stroke="#0e0e0e" stroke-width="1.2"/>
<path d="M341.56,406.84 L374.01,434.89" stroke="#f2f2f2" stroke-width="0.7"/>
<polygon points="329.44,410.14 364.89,438.53 364.89,468.31 362.01,475.81 355.21,476.91 328.94,452.74" fill="#d0d0d0"/>
<polygon points="354.14,431.01 364.89,438.53 364.89,468.31 362.01,475.81 355.21,476.91 354.14,472.31" fill="#d8d8d8"/>
<path d="M354.49,431.01 V471.31" stroke="#8f8f8f" stroke-width="0.7"/>
<path d="M364.59,438.53 V468.31" stroke="#c0c0c0" stroke-width="0.6"/>
<circle cx="360.69" cy="453.31" r="1.3" fill="#2a2a2a"/>
<circle cx="357.39" cy="459.81" r="0.7" fill="#444"/>
<circle cx="359.39" cy="462.31" r="0.6" fill="#555"/>
<ellipse cx="358.21" cy="470.31" rx="4.2" ry="6.4" fill="#a0a0a0" transform="rotate(-14 358.21 470.31)"/>
<ellipse cx="358.21" cy="470.31" rx="3.7" ry="5.9" fill="#121212" transform="rotate(-14 358.21 470.31)"/>
<ellipse cx="358.41" cy="470.61" rx="1.8" ry="3.4" fill="#3a3a3a" transform="rotate(-14 358.21 470.31)"/>
<polygon points="329.44,405.74 364.89,434.13 362.29,438.13 329.44,410.14" fill="#dadada" stroke="#0a0a0a" stroke-width="1.1" stroke-linejoin="round"/>
<path d="M330.94,408.84 L361.89,436.23" stroke="#262626" stroke-width="1.5" stroke-dasharray="1.3 2.1" fill="none"/>
<polygon points="318.17,412.41 354.14,441.08 354.14,471.19 351.23,478.69 344.43,479.79 317.67,455.51" fill="#d0d0d0"/>
<polygon points="343.28,433.48 354.14,441.08 354.14,471.19 351.23,478.69 344.43,479.79 343.28,475.19" fill="#d8d8d8"/>
<path d="M343.63,433.48 V474.19" stroke="#8f8f8f" stroke-width="0.7"/>
<path d="M353.84,441.08 V471.19" stroke="#c0c0c0" stroke-width="0.6"/>
<circle cx="349.94" cy="456.19" r="1.3" fill="#2a2a2a"/>
<circle cx="346.64" cy="462.69" r="0.7" fill="#444"/>
<circle cx="348.64" cy="465.19" r="0.6" fill="#555"/>
<ellipse cx="347.43" cy="473.19" rx="4.2" ry="6.4" fill="#a0a0a0" transform="rotate(-14 347.43 473.19)"/>
<ellipse cx="347.43" cy="473.19" rx="3.7" ry="5.9" fill="#121212" transform="rotate(-14 347.43 473.19)"/>
<ellipse cx="347.63" cy="473.49" rx="1.8" ry="3.4" fill="#3a3a3a" transform="rotate(-14 347.43 473.19)"/>
<polygon points="318.17,408.01 354.14,436.68 351.54,440.68 318.17,412.41" fill="#dadada" stroke="#0a0a0a" stroke-width="1.1" stroke-linejoin="round"/>
<path d="M319.67,411.11 L351.14,438.78" stroke="#262626" stroke-width="1.5" stroke-dasharray="1.3 2.1" fill="none"/>
<polygon points="306.75,414.76 343.28,443.64 343.28,474.08 340.34,481.58 333.54,482.68 306.25,458.36" fill="#d0d0d0"/>
<polygon points="332.3,435.95 343.28,443.64 343.28,474.08 340.34,481.58 333.54,482.68 332.3,478.08" fill="#d8d8d8"/>
<path d="M332.65,435.95 V477.08" stroke="#8f8f8f" stroke-width="0.7"/>
<path d="M342.98,443.64 V474.08" stroke="#c0c0c0" stroke-width="0.6"/>
<circle cx="339.08" cy="459.08" r="1.3" fill="#2a2a2a"/>
<circle cx="335.78" cy="465.58" r="0.7" fill="#444"/>
<circle cx="337.78" cy="468.08" r="0.6" fill="#555"/>
<ellipse cx="336.54" cy="476.08" rx="4.2" ry="6.4" fill="#a0a0a0" transform="rotate(-14 336.54 476.08)"/>
<ellipse cx="336.54" cy="476.08" rx="3.7" ry="5.9" fill="#121212" transform="rotate(-14 336.54 476.08)"/>
<ellipse cx="336.74" cy="476.38" rx="1.8" ry="3.4" fill="#3a3a3a" transform="rotate(-14 336.54 476.08)"/>
<polygon points="306.75,410.36 343.28,439.24 340.68,443.24 306.75,414.76" fill="#dadada" stroke="#0a0a0a" stroke-width="1.1" stroke-linejoin="round"/>
<path d="M308.25,413.46 L340.28,441.34" stroke="#262626" stroke-width="1.5" stroke-dasharray="1.3 2.1" fill="none"/>
<polygon points="295.19,417.19 332.3,446.22 332.3,476.99 329.33,484.49 322.53,485.59 294.69,461.29" fill="#d0d0d0"/>
<polygon points="321.19,438.44 332.3,446.22 332.3,476.99 329.33,484.49 322.53,485.59 321.19,480.99" fill="#d8d8d8"/>
<path d="M321.54,438.44 V479.99" stroke="#8f8f8f" stroke-width="0.7"/>
<path d="M332,446.22 V476.99" stroke="#c0c0c0" stroke-width="0.6"/>
<circle cx="328.1" cy="461.99" r="1.3" fill="#2a2a2a"/>
<circle cx="324.8" cy="468.49" r="0.7" fill="#444"/>
<circle cx="326.8" cy="470.99" r="0.6" fill="#555"/>
<ellipse cx="325.53" cy="478.99" rx="4.2" ry="6.4" fill="#a0a0a0" transform="rotate(-14 325.53 478.99)"/>
<ellipse cx="325.53" cy="478.99" rx="3.7" ry="5.9" fill="#121212" transform="rotate(-14 325.53 478.99)"/>
<ellipse cx="325.73" cy="479.29" rx="1.8" ry="3.4" fill="#3a3a3a" transform="rotate(-14 325.53 478.99)"/>
<polygon points="295.19,412.79 332.3,441.82 329.7,445.82 295.19,417.19" fill="#dadada" stroke="#0a0a0a" stroke-width="1.1" stroke-linejoin="round"/>
<path d="M296.69,415.89 L329.3,443.92" stroke="#262626" stroke-width="1.5" stroke-dasharray="1.3 2.1" fill="none"/>
<polygon points="283.48,419.7 321.19,448.8 321.19,479.9 318.19,487.4 311.39,488.5 282.98,464.3" fill="url(#sideb)"/>
<path d="M284.98,432.3 L309.19,457.4 M285.98,446.3 L307.19,470.4" stroke="#ebebeb" stroke-width="1.1" fill="none"/>
<path d="M291.48,453.3 L312.19,468.4" stroke="#b8b8b8" stroke-width="1" fill="none"/>
<path d="M283.98,463.8 L311.39,488.1" stroke="#808080" stroke-width="1.1" fill="none"/>
<path d="M283.78,419.7 L283.28,464.3" stroke="#a0a0a0" stroke-width="0.7" fill="none"/>
<polygon points="309.89,440.89 321.19,448.8 321.19,479.9 318.19,487.4 311.39,488.5 309.89,483.9" fill="#d8d8d8"/>
<path d="M310.24,448.8 V482.9" stroke="#bdbdbd" stroke-width="0.6"/>
<path d="M320.89,448.8 V479.9" stroke="#c0c0c0" stroke-width="0.6"/>
<circle cx="316.99" cy="464.9" r="1.3" fill="#2a2a2a"/>
<circle cx="313.69" cy="471.4" r="0.7" fill="#444"/>
<circle cx="315.69" cy="473.9" r="0.6" fill="#555"/>
<ellipse cx="314.39" cy="481.9" rx="4.2" ry="6.4" fill="#a0a0a0" transform="rotate(-14 314.39 481.9)"/>
<ellipse cx="314.39" cy="481.9" rx="3.7" ry="5.9" fill="#121212" transform="rotate(-14 314.39 481.9)"/>
<ellipse cx="314.59" cy="482.2" rx="1.8" ry="3.4" fill="#3a3a3a" transform="rotate(-14 314.39 481.9)"/>
<polygon points="283.48,415.3 321.19,444.4 318.59,448.4 283.48,419.7" fill="#dadada" stroke="#0a0a0a" stroke-width="1.1" stroke-linejoin="round"/>
<path d="M284.98,418.4 L318.19,446.5" stroke="#262626" stroke-width="1.5" stroke-dasharray="1.3 2.1" fill="none"/>
<polygon points="637.35,391.66 668.88,413.6 668.88,440.08 666.3,447.58 659.5,448.68 636.85,429.26" fill="#d0d0d0"/>
<polygon points="659.34,406.93 668.88,413.6 668.88,440.08 666.3,447.58 659.5,448.68 659.34,444.08" fill="#d8d8d8"/>
<path d="M659.69,406.93 V443.08" stroke="#8f8f8f" stroke-width="0.7"/>
<path d="M668.58,413.6 V440.08" stroke="#c0c0c0" stroke-width="0.6"/>
<circle cx="664.68" cy="425.08" r="1.3" fill="#2a2a2a"/>
<circle cx="661.38" cy="431.58" r="0.7" fill="#444"/>
<circle cx="663.38" cy="434.08" r="0.6" fill="#555"/>
<ellipse cx="662.5" cy="442.08" rx="4.2" ry="6.4" fill="#a0a0a0" transform="rotate(-14 662.5 442.08)"/>
<ellipse cx="662.5" cy="442.08" rx="3.7" ry="5.9" fill="#121212" transform="rotate(-14 662.5 442.08)"/>
<ellipse cx="662.7" cy="442.38" rx="1.8" ry="3.4" fill="#3a3a3a" transform="rotate(-14 662.5 442.08)"/>
<polygon points="637.35,387.26 668.88,409.2 666.28,413.2 637.35,391.66" fill="#d9d9d9"/>
<polygon points="638.35,389.46 638.35,385.86 639.46,384.01 640.25,384.92 641.36,387.88 641.52,388.3 642.63,386.45 643.42,387.36 644.53,390.31 644.69,390.74 645.8,388.89 646.59,389.8 647.7,392.75 647.86,393.17 648.97,391.33 649.76,392.24 650.87,395.19 651.03,395.61 652.14,393.77 652.93,394.67 654.04,397.63 654.2,398.05 655.31,396.2 656.1,397.11 657.21,400.07 657.37,400.49 658.48,398.64 659.27,399.55 660.38,402.5 660.54,402.93 661.65,401.08 662.44,401.99 663.55,404.94 663.71,405.36 664.82,403.52 665.61,404.43 666.72,407.38 666.88,411.4" fill="#1d9ae5" stroke="#1d9ae5" stroke-width="0.4" stroke-linejoin="round"/>
<path d="M637.35,389.46 L668.38,411.4" stroke="#0e0e0e" stroke-width="1.2"/>
<path d="M638.35,390.56 L667.38,412.5" stroke="#f2f2f2" stroke-width="0.7"/>
<polygon points="627.53,393.16 659.34,416.05 659.34,442.86 656.73,450.36 649.93,451.46 627.03,431.26" fill="#d0d0d0"/>
<polygon points="649.68,409.29 659.34,416.05 659.34,442.86 656.73,450.36 649.93,451.46 649.68,446.86" fill="#d8d8d8"/>
<path d="M650.03,409.29 V445.86" stroke="#8f8f8f" stroke-width="0.7"/>
<path d="M659.04,416.05 V442.86" stroke="#c0c0c0" stroke-width="0.6"/>
<circle cx="655.14" cy="427.86" r="1.3" fill="#2a2a2a"/>
<circle cx="651.84" cy="434.36" r="0.7" fill="#444"/>
<circle cx="653.84" cy="436.86" r="0.6" fill="#555"/>
<ellipse cx="652.93" cy="444.86" rx="4.2" ry="6.4" fill="#a0a0a0" transform="rotate(-14 652.93 444.86)"/>
<ellipse cx="652.93" cy="444.86" rx="3.7" ry="5.9" fill="#121212" transform="rotate(-14 652.93 444.86)"/>
<ellipse cx="653.13" cy="445.16" rx="1.8" ry="3.4" fill="#3a3a3a" transform="rotate(-14 652.93 444.86)"/>
<polygon points="627.53,388.76 659.34,411.65 656.74,415.65 627.53,393.16" fill="#d9d9d9"/>
<polygon points="628.53,390.96 628.53,387.36 629.65,385.55 630.45,386.48 631.57,389.47 631.73,389.9 632.85,388.09 633.65,389.03 634.78,392.02 634.94,392.45 636.06,390.64 636.86,391.57 637.98,394.56 638.14,394.99 639.26,393.18 640.06,394.11 641.18,397.1 641.34,397.53 642.46,395.72 643.26,396.66 644.38,399.65 644.54,400.07 645.66,398.26 646.46,399.2 647.58,402.19 647.74,402.62 648.86,400.81 649.66,401.74 650.78,404.73 650.94,405.16 652.06,403.35 652.86,404.29 653.98,407.28 654.14,407.7 655.26,405.89 656.06,406.83 657.18,409.82 657.34,413.85" fill="#1d9ae5" stroke="#1d9ae5" stroke-width="0.4" stroke-linejoin="round"/>
<path d="M627.53,390.96 L658.84,413.85" stroke="#0e0e0e" stroke-width="1.2"/>
<path d="M628.53,392.06 L657.84,414.95" stroke="#f2f2f2" stroke-width="0.7"/>
<polygon points="617.57,394.74 649.68,418.5 649.68,445.64 647.04,453.14 640.24,454.24 617.07,433.34" fill="#d0d0d0"/>
<polygon points="639.91,411.66 649.68,418.5 649.68,445.64 647.04,453.14 640.24,454.24 639.91,449.64" fill="#d8d8d8"/>
<path d="M640.26,411.66 V448.64" stroke="#8f8f8f" stroke-width="0.7"/>
<path d="M649.38,418.5 V445.64" stroke="#c0c0c0" stroke-width="0.6"/>
<circle cx="645.48" cy="430.64" r="1.3" fill="#2a2a2a"/>
<circle cx="642.18" cy="437.14" r="0.7" fill="#444"/>
<circle cx="644.18" cy="439.64" r="0.6" fill="#555"/>
<ellipse cx="643.24" cy="447.64" rx="4.2" ry="6.4" fill="#a0a0a0" transform="rotate(-14 643.24 447.64)"/>
<ellipse cx="643.24" cy="447.64" rx="3.7" ry="5.9" fill="#121212" transform="rotate(-14 643.24 447.64)"/>
<ellipse cx="643.44" cy="447.94" rx="1.8" ry="3.4" fill="#3a3a3a" transform="rotate(-14 643.24 447.64)"/>
<polygon points="617.57,390.34 649.68,414.1 647.08,418.1 617.57,394.74" fill="#d9d9d9"/>
<polygon points="618.57,392.54 618.57,388.94 619.7,387.16 620.51,388.12 621.64,391.14 621.81,391.58 622.94,389.8 623.75,390.76 624.88,393.78 625.04,394.22 626.17,392.44 626.98,393.4 628.11,396.43 628.28,396.86 629.41,395.08 630.22,396.04 631.35,399.07 631.51,399.5 632.64,397.72 633.45,398.68 634.58,401.71 634.75,402.14 635.88,400.36 636.69,401.32 637.82,404.35 637.98,404.78 639.11,403 639.92,403.96 641.05,406.99 641.21,407.42 642.35,405.64 643.16,406.6 644.29,409.63 644.45,410.06 645.58,408.28 646.39,409.24 647.52,412.27 647.68,416.3" fill="#1d9ae5" stroke="#1d9ae5" stroke-width="0.4" stroke-linejoin="round"/>
<path d="M617.57,392.54 L649.18,416.3" stroke="#0e0e0e" stroke-width="1.2"/>
<path d="M618.57,393.64 L648.18,417.4" stroke="#f2f2f2" stroke-width="0.7"/>
<polygon points="607.46,396.39 639.91,420.97 639.91,448.44 637.24,455.94 630.44,457.04 606.96,435.49" fill="#d0d0d0"/>
<polygon points="630.01,414.04 639.91,420.97 639.91,448.44 637.24,455.94 630.44,457.04 630.01,452.44" fill="#d8d8d8"/>
<path d="M630.36,414.04 V451.44" stroke="#8f8f8f" stroke-width="0.7"/>
<path d="M639.61,420.97 V448.44" stroke="#c0c0c0" stroke-width="0.6"/>
<circle cx="635.71" cy="433.44" r="1.3" fill="#2a2a2a"/>
<circle cx="632.41" cy="439.94" r="0.7" fill="#444"/>
<circle cx="634.41" cy="442.44" r="0.6" fill="#555"/>
<ellipse cx="633.44" cy="450.44" rx="4.2" ry="6.4" fill="#a0a0a0" transform="rotate(-14 633.44 450.44)"/>
<ellipse cx="633.44" cy="450.44" rx="3.7" ry="5.9" fill="#121212" transform="rotate(-14 633.44 450.44)"/>
<ellipse cx="633.64" cy="450.74" rx="1.8" ry="3.4" fill="#3a3a3a" transform="rotate(-14 633.44 450.44)"/>
<polygon points="607.46,391.99 639.91,416.57 637.31,420.57 607.46,396.39" fill="#d9d9d9"/>
<polygon points="608.46,394.19 608.46,390.59 609.61,388.84 610.43,389.83 611.57,392.88 611.73,393.32 612.88,391.58 613.7,392.56 614.84,395.61 615.01,396.05 616.15,394.31 616.97,395.29 618.11,398.35 618.28,398.78 619.42,397.04 620.24,398.02 621.39,401.08 621.55,401.51 622.69,399.77 623.51,400.75 624.66,403.81 624.82,404.24 625.97,402.5 626.78,403.48 627.93,406.54 628.09,406.97 629.24,405.23 630.06,406.21 631.2,409.27 631.36,409.71 632.51,407.96 633.33,408.94 634.47,412 634.64,412.44 635.78,410.69 636.6,411.67 637.74,414.73 637.91,418.77" fill="#1d9ae5" stroke="#1d9ae5" stroke-width="0.4" stroke-linejoin="round"/>
<path d="M607.46,394.19 L639.41,418.77" stroke="#0e0e0e" stroke-width="1.2"/>
<path d="M608.46,395.29 L638.41,419.87" stroke="#f2f2f2" stroke-width="0.7"/>
<polygon points="597.21,398.12 630.01,423.44 630.01,451.24 627.31,458.74 620.51,459.84 596.71,437.72" fill="#d0d0d0"/>
<polygon points="619.99,416.43 630.01,423.44 630.01,451.24 627.31,458.74 620.51,459.84 619.99,455.24" fill="#d8d8d8"/>
<path d="M620.34,416.43 V454.24" stroke="#8f8f8f" stroke-width="0.7"/>
<path d="M629.71,423.44 V451.24" stroke="#c0c0c0" stroke-width="0.6"/>
<circle cx="625.81" cy="436.24" r="1.3" fill="#2a2a2a"/>
<circle cx="622.51" cy="442.74" r="0.7" fill="#444"/>
<circle cx="624.51" cy="445.24" r="0.6" fill="#555"/>
<ellipse cx="623.51" cy="453.24" rx="4.2" ry="6.4" fill="#a0a0a0" transform="rotate(-14 623.51 453.24)"/>
<ellipse cx="623.51" cy="453.24" rx="3.7" ry="5.9" fill="#121212" transform="rotate(-14 623.51 453.24)"/>
<ellipse cx="623.71" cy="453.54" rx="1.8" ry="3.4" fill="#3a3a3a" transform="rotate(-14 623.51 453.24)"/>
<polygon points="597.21,393.72 630.01,419.04 627.41,423.04 597.21,398.12" fill="#d9d9d9"/>
<polygon points="598.21,395.92 598.21,392.32 599.37,390.6 600.2,391.61 601.36,394.69 601.52,395.13 602.68,393.42 603.51,394.42 604.67,397.51 604.83,397.95 605.99,396.23 606.82,397.24 607.98,400.32 608.14,400.76 609.3,399.05 610.13,400.05 611.29,403.13 611.45,403.58 612.61,401.86 613.44,402.86 614.6,405.95 614.77,406.39 615.92,404.67 616.75,405.68 617.91,408.76 618.08,409.2 619.24,407.49 620.06,408.49 621.22,411.58 621.39,412.02 622.55,410.3 623.37,411.3 624.53,414.39 624.7,414.83 625.86,413.12 626.69,414.12 627.84,417.2 628.01,421.24" fill="#1d9ae5" stroke="#1d9ae5" stroke-width="0.4" stroke-linejoin="round"/>
<path d="M597.21,395.92 L629.51,421.24" stroke="#0e0e0e" stroke-width="1.2"/>
<path d="M598.21,397.02 L628.51,422.34" stroke="#f2f2f2" stroke-width="0.7"/>
<polygon points="586.81,399.93 619.99,425.93 619.99,454.06 617.26,461.56 610.46,462.66 586.31,440.03" fill="#d0d0d0"/>
<polygon points="609.85,418.83 619.99,425.93 619.99,454.06 617.26,461.56 610.46,462.66 609.85,458.06" fill="#d8d8d8"/>
<path d="M610.2,418.83 V457.06" stroke="#8f8f8f" stroke-width="0.7"/>
<path d="M619.69,425.93 V454.06" stroke="#c0c0c0" stroke-width="0.6"/>
<circle cx="615.79" cy="439.06" r="1.3" fill="#2a2a2a"/>
<circle cx="612.49" cy="445.56" r="0.7" fill="#444"/>
<circle cx="614.49" cy="448.06" r="0.6" fill="#555"/>
<ellipse cx="613.46" cy="456.06" rx="4.2" ry="6.4" fill="#a0a0a0" transform="rotate(-14 613.46 456.06)"/>
<ellipse cx="613.46" cy="456.06" rx="3.7" ry="5.9" fill="#121212" transform="rotate(-14 613.46 456.06)"/>
<ellipse cx="613.66" cy="456.36" rx="1.8" ry="3.4" fill="#3a3a3a" transform="rotate(-14 613.46 456.06)"/>
<polygon points="586.81,395.53 619.99,421.53 617.39,425.53 586.81,399.93" fill="#d9d9d9"/>
<polygon points="587.81,397.73 587.81,394.13 588.98,392.44 589.82,393.46 591,396.57 591.16,397.02 592.34,395.33 593.18,396.35 594.35,399.46 594.52,399.91 595.69,398.22 596.53,399.24 597.7,402.35 597.87,402.8 599.05,401.11 599.88,402.13 601.06,405.24 601.22,405.69 602.4,404 603.24,405.02 604.41,408.13 604.58,408.57 605.75,406.89 606.59,407.91 607.76,411.02 607.93,411.46 609.11,409.78 609.94,410.8 611.12,413.91 611.28,414.35 612.46,412.66 613.3,413.69 614.47,416.8 614.64,417.24 615.81,415.55 616.65,416.58 617.82,419.69 617.99,423.73" fill="#1d9ae5" stroke="#1d9ae5" stroke-width="0.4" stroke-linejoin="round"/>
<path d="M586.81,397.73 L619.49,423.73" stroke="#0e0e0e" stroke-width="1.2"/>
<path d="M587.81,398.83 L618.49,424.83" stroke="#f2f2f2" stroke-width="0.7"/>
<polygon points="576.27,401.82 609.85,428.43 609.85,456.89 607.09,464.39 600.29,465.49 575.77,442.42" fill="#d0d0d0"/>
<polygon points="599.59,421.25 609.85,428.43 609.85,456.89 607.09,464.39 600.29,465.49 599.59,460.89" fill="#d8d8d8"/>
<path d="M599.94,421.25 V459.89" stroke="#8f8f8f" stroke-width="0.7"/>
<path d="M609.55,428.43 V456.89" stroke="#c0c0c0" stroke-width="0.6"/>
<circle cx="605.65" cy="441.89" r="1.3" fill="#2a2a2a"/>
<circle cx="602.35" cy="448.39" r="0.7" fill="#444"/>
<circle cx="604.35" cy="450.89" r="0.6" fill="#555"/>
<ellipse cx="603.29" cy="458.89" rx="4.2" ry="6.4" fill="#a0a0a0" transform="rotate(-14 603.29 458.89)"/>
<ellipse cx="603.29" cy="458.89" rx="3.7" ry="5.9" fill="#121212" transform="rotate(-14 603.29 458.89)"/>
<ellipse cx="603.49" cy="459.19" rx="1.8" ry="3.4" fill="#3a3a3a" transform="rotate(-14 603.29 458.89)"/>
<polygon points="576.27,397.42 609.85,424.03 607.25,428.03 576.27,401.82" fill="#d9d9d9"/>
<polygon points="577.27,399.62 577.27,396.02 578.34,394.25 579.1,395.21 580.17,398.24 580.33,398.68 581.4,396.91 582.16,397.87 583.23,400.91 583.38,401.34 584.45,399.57 585.22,400.53 586.29,403.57 586.44,404 587.51,402.23 588.28,403.2 589.35,406.23 589.5,406.66 590.57,404.89 591.34,405.86 592.41,408.89 592.56,409.32 593.63,407.55 594.39,408.52 595.47,411.55 595.62,411.98 596.69,410.22 597.45,411.18 598.52,414.21 598.68,414.65 599.75,412.88 600.51,413.84 601.58,416.87 601.74,417.31 602.81,415.54 603.57,416.5 604.64,419.54 604.79,419.97 605.86,418.2 606.63,419.17 607.7,422.2 607.85,426.23" fill="#1d9ae5" stroke="#1d9ae5" stroke-width="0.4" stroke-linejoin="round"/>
<path d="M576.27,399.62 L609.35,426.23" stroke="#0e0e0e" stroke-width="1.2"/>
<path d="M577.27,400.72 L608.35,427.33" stroke="#f2f2f2" stroke-width="0.7"/>
<polygon points="565.58,403.78 599.59,430.94 599.59,459.73 596.8,467.23 590,468.33 565.08,444.88" fill="#d0d0d0"/>
<polygon points="589.21,423.67 599.59,430.94 599.59,459.73 596.8,467.23 590,468.33 589.21,463.73" fill="#d8d8d8"/>
<path d="M589.56,423.67 V462.73" stroke="#8f8f8f" stroke-width="0.7"/>
<path d="M599.29,430.94 V459.73" stroke="#c0c0c0" stroke-width="0.6"/>
<circle cx="595.39" cy="444.73" r="1.3" fill="#2a2a2a"/>
<circle cx="592.09" cy="451.23" r="0.7" fill="#444"/>
<circle cx="594.09" cy="453.73" r="0.6" fill="#555"/>
<ellipse cx="593" cy="461.73" rx="4.2" ry="6.4" fill="#a0a0a0" transform="rotate(-14 593 461.73)"/>
<ellipse cx="593" cy="461.73" rx="3.7" ry="5.9" fill="#121212" transform="rotate(-14 593 461.73)"/>
<ellipse cx="593.2" cy="462.03" rx="1.8" ry="3.4" fill="#3a3a3a" transform="rotate(-14 593 461.73)"/>
<polygon points="565.58,399.38 599.59,426.54 596.99,430.54 565.58,403.78" fill="#d9d9d9"/>
<polygon points="566.58,401.58 566.58,397.98 567.66,396.23 568.44,397.21 569.52,400.26 569.68,400.7 570.76,398.95 571.54,399.92 572.63,402.98 572.78,403.41 573.87,401.66 574.64,402.64 575.73,405.69 575.88,406.13 576.97,404.38 577.74,405.36 578.83,408.41 578.98,408.84 580.07,407.09 580.84,408.07 581.93,411.12 582.09,411.56 583.17,409.81 583.95,410.79 585.03,413.84 585.19,414.27 586.27,412.53 587.05,413.5 588.13,416.56 588.29,416.99 589.37,415.24 590.15,416.22 591.23,419.27 591.39,419.71 592.47,417.96 593.25,418.94 594.34,421.99 594.49,422.42 595.58,420.67 596.35,421.65 597.44,424.7 597.59,428.74" fill="#1d9ae5" stroke="#1d9ae5" stroke-width="0.4" stroke-linejoin="round"/>
<path d="M565.58,401.58 L599.09,428.74" stroke="#0e0e0e" stroke-width="1.2"/>
<path d="M566.58,402.68 L598.09,429.84" stroke="#f2f2f2" stroke-width="0.7"/>
<polygon points="554.74,405.82 589.21,433.46 589.21,462.58 586.39,470.08 579.59,471.18 554.24,447.42" fill="#d0d0d0"/>
<polygon points="578.71,426.11 589.21,433.46 589.21,462.58 586.39,470.08 579.59,471.18 578.71,466.58" fill="#d8d8d8"/>
<path d="M579.06,426.11 V465.58" stroke="#8f8f8f" stroke-width="0.7"/>
<path d="M588.91,433.46 V462.58" stroke="#c0c0c0" stroke-width="0.6"/>
<circle cx="585.01" cy="447.58" r="1.3" fill="#2a2a2a"/>
<circle cx="581.71" cy="454.08" r="0.7" fill="#444"/>
<circle cx="583.71" cy="456.58" r="0.6" fill="#555"/>
<ellipse cx="582.59" cy="464.58" rx="4.2" ry="6.4" fill="#a0a0a0" transform="rotate(-14 582.59 464.58)"/>
<ellipse cx="582.59" cy="464.58" rx="3.7" ry="5.9" fill="#121212" transform="rotate(-14 582.59 464.58)"/>
<ellipse cx="582.79" cy="464.88" rx="1.8" ry="3.4" fill="#3a3a3a" transform="rotate(-14 582.59 464.58)"/>
<polygon points="554.74,401.42 589.21,429.06 586.61,433.06 554.74,405.82" fill="#d9d9d9"/>
<polygon points="555.74,403.62 555.74,400.02 556.84,398.29 557.63,399.28 558.73,402.35 558.89,402.78 559.99,401.05 560.78,402.04 561.88,405.11 562.04,405.55 563.14,403.82 563.92,404.81 565.03,407.87 565.18,408.31 566.28,406.58 567.07,407.57 568.17,410.64 568.33,411.08 569.43,409.34 570.22,410.33 571.32,413.4 571.48,413.84 572.58,412.11 573.37,413.1 574.47,416.17 574.62,416.6 575.73,414.87 576.51,415.86 577.61,418.93 577.77,419.37 578.87,417.63 579.66,418.63 580.76,421.69 580.92,422.13 582.02,420.4 582.81,421.39 583.91,424.46 584.06,424.89 585.17,423.16 585.95,424.15 587.05,427.22 587.21,431.26" fill="#1d9ae5" stroke="#1d9ae5" stroke-width="0.4" stroke-linejoin="round"/>
<path d="M554.74,403.62 L588.71,431.26" stroke="#0e0e0e" stroke-width="1.2"/>
<path d="M555.74,404.72 L587.71,432.36" stroke="#f2f2f2" stroke-width="0.7"/>
<polygon points="543.76,407.94 578.71,435.99 578.71,465.44 575.86,472.94 569.06,474.04 543.26,450.04" fill="#d0d0d0"/>
<polygon points="568.09,428.55 578.71,435.99 578.71,465.44 575.86,472.94 569.06,474.04 568.09,469.44" fill="#d8d8d8"/>
<path d="M568.44,428.55 V468.44" stroke="#8f8f8f" stroke-width="0.7"/>
<path d="M578.41,435.99 V465.44" stroke="#c0c0c0" stroke-width="0.6"/>
<circle cx="574.51" cy="450.44" r="1.3" fill="#2a2a2a"/>
<circle cx="571.21" cy="456.94" r="0.7" fill="#444"/>
<circle cx="573.21" cy="459.44" r="0.6" fill="#555"/>
<ellipse cx="572.06" cy="467.44" rx="4.2" ry="6.4" fill="#a0a0a0" transform="rotate(-14 572.06 467.44)"/>
<ellipse cx="572.06" cy="467.44" rx="3.7" ry="5.9" fill="#121212" transform="rotate(-14 572.06 467.44)"/>
<ellipse cx="572.26" cy="467.74" rx="1.8" ry="3.4" fill="#3a3a3a" transform="rotate(-14 572.06 467.44)"/>
<polygon points="543.76,403.54 578.71,431.59 576.11,435.59 543.76,407.94" fill="#d9d9d9"/>
<polygon points="544.76,405.74 544.76,402.14 545.88,400.42 546.68,401.42 547.8,404.5 547.96,404.94 549.08,403.23 549.87,404.23 550.99,407.31 551.15,407.75 552.27,406.03 553.07,407.03 554.19,410.11 554.35,410.55 555.46,408.84 556.26,409.84 557.38,412.92 557.54,413.36 558.66,411.64 559.46,412.64 560.58,415.72 560.74,416.16 561.85,414.45 562.65,415.45 563.77,418.53 563.93,418.97 565.05,417.25 565.85,418.25 566.97,421.33 567.13,421.77 568.24,420.06 569.04,421.06 570.16,424.14 570.32,424.58 571.44,422.86 572.24,423.86 573.36,426.94 573.52,427.38 574.63,425.67 575.43,426.67 576.55,429.75 576.71,433.79" fill="#1d9ae5" stroke="#1d9ae5" stroke-width="0.4" stroke-linejoin="round"/>
<path d="M543.76,405.74 L578.21,433.79" stroke="#0e0e0e" stroke-width="1.2"/>
<path d="M544.76,406.84 L577.21,434.89" stroke="#f2f2f2" stroke-width="0.7"/>
<polygon points="532.64,410.14 568.09,438.53 568.09,468.31 565.21,475.81 558.41,476.91 532.14,452.74" fill="#d0d0d0"/>
<polygon points="557.34,431.01 568.09,438.53 568.09,468.31 565.21,475.81 558.41,476.91 557.34,472.31" fill="#d8d8d8"/>
<path d="M557.69,431.01 V471.31" stroke="#8f8f8f" stroke-width="0.7"/>
<path d="M567.79,438.53 V468.31" stroke="#c0c0c0" stroke-width="0.6"/>
<circle cx="563.89" cy="453.31" r="1.3" fill="#2a2a2a"/>
<circle cx="560.59" cy="459.81" r="0.7" fill="#444"/>
<circle cx="562.59" cy="462.31" r="0.6" fill="#555"/>
<ellipse cx="561.41" cy="470.31" rx="4.2" ry="6.4" fill="#a0a0a0" transform="rotate(-14 561.41 470.31)"/>
<ellipse cx="561.41" cy="470.31" rx="3.7" ry="5.9" fill="#121212" transform="rotate(-14 561.41 470.31)"/>
<ellipse cx="561.61" cy="470.61" rx="1.8" ry="3.4" fill="#3a3a3a" transform="rotate(-14 561.41 470.31)"/>
<polygon points="532.64,405.74 568.09,434.13 565.49,438.13 532.64,410.14" fill="#d9d9d9"/>
<polygon points="533.64,407.94 533.64,404.34 534.77,402.63 535.58,403.64 536.72,406.73 536.88,407.18 538.02,405.47 538.83,406.48 539.96,409.57 540.13,410.02 541.26,408.31 542.07,409.32 543.21,412.41 543.37,412.85 544.51,411.15 545.32,412.16 546.45,415.25 546.62,415.69 547.75,413.99 548.56,415 549.7,418.09 549.86,418.53 551,416.83 551.81,417.84 552.95,420.93 553.11,421.37 554.24,419.67 555.05,420.68 556.19,423.77 556.35,424.21 557.49,422.51 558.3,423.52 559.44,426.61 559.6,427.05 560.73,425.34 561.54,426.35 562.68,429.45 562.84,429.89 563.98,428.18 564.79,429.19 565.93,432.29 566.09,436.33" fill="#1d9ae5" stroke="#1d9ae5" stroke-width="0.4" stroke-linejoin="round"/>
<path d="M532.64,407.94 L567.59,436.33" stroke="#0e0e0e" stroke-width="1.2"/>
<path d="M533.64,409.04 L566.59,437.43" stroke="#f2f2f2" stroke-width="0.7"/>
<polygon points="521.37,412.41 557.34,441.08 557.34,471.19 554.43,478.69 547.63,479.79 520.87,455.51" fill="#d0d0d0"/>
<polygon points="546.48,433.48 557.34,441.08 557.34,471.19 554.43,478.69 547.63,479.79 546.48,475.19" fill="#d8d8d8"/>
<path d="M546.83,433.48 V474.19" stroke="#8f8f8f" stroke-width="0.7"/>
<path d="M557.04,441.08 V471.19" stroke="#c0c0c0" stroke-width="0.6"/>
<circle cx="553.14" cy="456.19" r="1.3" fill="#2a2a2a"/>
<circle cx="549.84" cy="462.69" r="0.7" fill="#444"/>
<circle cx="551.84" cy="465.19" r="0.6" fill="#555"/>
<ellipse cx="550.63" cy="473.19" rx="4.2" ry="6.4" fill="#a0a0a0" transform="rotate(-14 550.63 473.19)"/>
<ellipse cx="550.63" cy="473.19" rx="3.7" ry="5.9" fill="#121212" transform="rotate(-14 550.63 473.19)"/>
<ellipse cx="550.83" cy="473.49" rx="1.8" ry="3.4" fill="#3a3a3a" transform="rotate(-14 550.63 473.19)"/>
<polygon points="521.37,408.01 557.34,436.68 554.74,440.68 521.37,412.41" fill="#d9d9d9"/>
<polygon points="522.37,410.21 522.37,406.61 523.52,404.91 524.34,405.93 525.5,409.03 525.66,409.48 526.82,407.78 527.64,408.8 528.8,411.9 528.96,412.35 530.12,410.65 530.94,411.67 532.09,414.77 532.26,415.21 533.41,413.52 534.24,414.53 535.39,417.64 535.56,418.08 536.71,416.38 537.54,417.4 538.69,420.5 538.86,420.95 540.01,419.25 540.83,420.27 541.99,423.37 542.15,423.81 543.31,422.12 544.13,423.13 545.29,426.24 545.45,426.68 546.61,424.98 547.43,426 548.58,429.1 548.75,429.55 549.9,427.85 550.73,428.87 551.88,431.97 552.05,432.41 553.2,430.72 554.03,431.73 555.18,434.84 555.34,438.88" fill="#1d9ae5" stroke="#1d9ae5" stroke-width="0.4" stroke-linejoin="round"/>
<path d="M521.37,410.21 L556.84,438.88" stroke="#0e0e0e" stroke-width="1.2"/>
<path d="M522.37,411.31 L555.84,439.98" stroke="#f2f2f2" stroke-width="0.7"/>
<polygon points="509.95,414.76 546.48,443.64 546.48,474.08 543.54,481.58 536.74,482.68 509.45,458.36" fill="#d0d0d0"/>
<polygon points="535.5,435.95 546.48,443.64 546.48,474.08 543.54,481.58 536.74,482.68 535.5,478.08" fill="#d8d8d8"/>
<path d="M535.85,435.95 V477.08" stroke="#8f8f8f" stroke-width="0.7"/>
<path d="M546.18,443.64 V474.08" stroke="#c0c0c0" stroke-width="0.6"/>
<circle cx="542.28" cy="459.08" r="1.3" fill="#2a2a2a"/>
<circle cx="538.98" cy="465.58" r="0.7" fill="#444"/>
<circle cx="540.98" cy="468.08" r="0.6" fill="#555"/>
<ellipse cx="539.74" cy="476.08" rx="4.2" ry="6.4" fill="#a0a0a0" transform="rotate(-14 539.74 476.08)"/>
<ellipse cx="539.74" cy="476.08" rx="3.7" ry="5.9" fill="#121212" transform="rotate(-14 539.74 476.08)"/>
<ellipse cx="539.94" cy="476.38" rx="1.8" ry="3.4" fill="#3a3a3a" transform="rotate(-14 539.74 476.08)"/>
<polygon points="509.95,410.36 546.48,439.24 543.88,443.24 509.95,414.76" fill="#d9d9d9"/>
<polygon points="510.95,412.56 510.95,408.96 512.12,407.27 512.96,408.3 514.13,411.41 514.3,411.85 515.48,410.16 516.31,411.18 517.49,414.29 517.66,414.74 518.83,413.05 519.67,414.07 520.84,417.18 521.01,417.63 522.18,415.94 523.02,416.96 524.19,420.07 524.36,420.52 525.54,418.83 526.37,419.85 527.55,422.96 527.71,423.4 528.89,421.71 529.73,422.74 530.9,425.85 531.07,426.29 532.24,424.6 533.08,425.62 534.25,428.73 534.42,429.18 535.59,427.49 536.43,428.51 537.61,431.62 537.77,432.07 538.95,430.38 539.79,431.4 540.96,434.51 541.13,434.96 542.3,433.27 543.14,434.29 544.31,437.4 544.48,441.44" fill="#1d9ae5" stroke="#1d9ae5" stroke-width="0.4" stroke-linejoin="round"/>
<path d="M509.95,412.56 L545.98,441.44" stroke="#0e0e0e" stroke-width="1.2"/>
<path d="M510.95,413.66 L544.98,442.54" stroke="#f2f2f2" stroke-width="0.7"/>
<polygon points="498.39,417.19 535.5,446.22 535.5,476.99 532.53,484.49 525.73,485.59 497.89,461.29" fill="#d0d0d0"/>
<polygon points="524.39,438.44 535.5,446.22 535.5,476.99 532.53,484.49 525.73,485.59 524.39,480.99" fill="#d8d8d8"/>
<path d="M524.74,438.44 V479.99" stroke="#8f8f8f" stroke-width="0.7"/>
<path d="M535.2,446.22 V476.99" stroke="#c0c0c0" stroke-width="0.6"/>
<circle cx="531.3" cy="461.99" r="1.3" fill="#2a2a2a"/>
<circle cx="528" cy="468.49" r="0.7" fill="#444"/>
<circle cx="530" cy="470.99" r="0.6" fill="#555"/>
<ellipse cx="528.73" cy="478.99" rx="4.2" ry="6.4" fill="#a0a0a0" transform="rotate(-14 528.73 478.99)"/>
<ellipse cx="528.73" cy="478.99" rx="3.7" ry="5.9" fill="#121212" transform="rotate(-14 528.73 478.99)"/>
<ellipse cx="528.93" cy="479.29" rx="1.8" ry="3.4" fill="#3a3a3a" transform="rotate(-14 528.73 478.99)"/>
<polygon points="498.39,412.79 535.5,441.82 532.9,445.82 498.39,417.19" fill="#d9d9d9"/>
<polygon points="499.39,414.99 499.39,411.39 500.47,409.62 501.25,410.58 502.33,413.6 502.49,414.03 503.57,412.25 504.35,413.21 505.43,416.24 505.59,416.67 506.67,414.89 507.45,415.85 508.53,418.88 508.69,419.31 509.77,417.53 510.55,418.49 511.64,421.51 511.79,421.95 512.88,420.17 513.65,421.13 514.74,424.15 514.89,424.59 515.98,422.81 516.75,423.77 517.84,426.79 517.99,427.22 519.08,425.45 519.85,426.41 520.94,429.43 521.09,429.86 522.18,428.09 522.95,429.05 524.04,432.07 524.19,432.5 525.28,430.72 526.05,431.68 527.14,434.71 527.29,435.14 528.38,433.36 529.15,434.32 530.24,437.35 530.39,437.78 531.48,436 532.26,436.96 533.34,439.98 533.5,444.02" fill="#1d9ae5" stroke="#1d9ae5" stroke-width="0.4" stroke-linejoin="round"/>
<path d="M498.39,414.99 L535,444.02" stroke="#0e0e0e" stroke-width="1.2"/>
<path d="M499.39,416.09 L534,445.12" stroke="#f2f2f2" stroke-width="0.7"/>
<polygon points="486.68,419.7 524.39,448.8 524.39,479.9 521.39,487.4 514.59,488.5 486.18,464.3" fill="url(#sidec)"/>
<path d="M488.18,432.3 L512.39,457.4 M489.18,446.3 L510.39,470.4" stroke="#ebebeb" stroke-width="1.1" fill="none"/>
<path d="M494.68,453.3 L515.39,468.4" stroke="#b8b8b8" stroke-width="1" fill="none"/>
<path d="M487.18,463.8 L514.59,488.1" stroke="#808080" stroke-width="1.1" fill="none"/>
<path d="M486.98,419.7 L486.48,464.3" stroke="#a0a0a0" stroke-width="0.7" fill="none"/>
<polygon points="513.09,440.89 524.39,448.8 524.39,479.9 521.39,487.4 514.59,488.5 513.09,483.9" fill="#d8d8d8"/>
<path d="M513.44,448.8 V482.9" stroke="#bdbdbd" stroke-width="0.6"/>
<path d="M524.09,448.8 V479.9" stroke="#c0c0c0" stroke-width="0.6"/>
<circle cx="520.19" cy="464.9" r="1.3" fill="#2a2a2a"/>
<circle cx="516.89" cy="471.4" r="0.7" fill="#444"/>
<circle cx="518.89" cy="473.9" r="0.6" fill="#555"/>
<ellipse cx="517.59" cy="481.9" rx="4.2" ry="6.4" fill="#a0a0a0" transform="rotate(-14 517.59 481.9)"/>
<ellipse cx="517.59" cy="481.9" rx="3.7" ry="5.9" fill="#121212" transform="rotate(-14 517.59 481.9)"/>
<ellipse cx="517.79" cy="482.2" rx="1.8" ry="3.4" fill="#3a3a3a" transform="rotate(-14 517.59 481.9)"/>
<polygon points="486.68,415.3 524.39,444.4 521.79,448.4 486.68,419.7" fill="#d9d9d9"/>
<polygon points="487.68,417.5 487.68,413.9 488.78,412.13 489.57,413.09 490.68,416.11 490.84,416.55 491.94,414.77 492.73,415.73 493.83,418.76 493.99,419.19 495.1,417.42 495.88,418.38 496.99,421.4 497.15,421.84 498.25,420.06 499.04,421.02 500.14,424.05 500.3,424.48 501.41,422.71 502.2,423.67 503.3,426.69 503.46,427.13 504.56,425.35 505.35,426.31 506.45,429.34 506.61,429.77 507.72,428 508.51,428.96 509.61,431.99 509.77,432.42 510.87,430.64 511.66,431.61 512.77,434.63 512.92,435.06 514.03,433.29 514.82,434.25 515.92,437.28 516.08,437.71 517.18,435.93 517.97,436.9 519.08,439.92 519.23,440.35 520.34,438.58 521.13,439.54 522.23,442.57 522.39,446.6" fill="#1d9ae5" stroke="#1d9ae5" stroke-width="0.4" stroke-linejoin="round"/>
<path d="M486.68,417.5 L523.89,446.6" stroke="#0e0e0e" stroke-width="1.2"/>
<path d="M487.68,418.6 L522.89,447.7" stroke="#f2f2f2" stroke-width="0.7"/>
<path d="M190.5,475 C192,479 196,483 196,489.5 A5.5,5.5 0 0 1 185,489.5 C185,483 189,479 190.5,475 Z" fill="#1e8ad6"/><path d="M190.5,482 C191.5,485 194,487 194,491 A3.5,3.5 0 0 1 187,491 C187,487 189.5,485 190.5,482 Z" fill="#5db6ec"/><path d="M415,475 C416.5,479 420.5,483 420.5,489.5 A5.5,5.5 0 0 1 409.5,489.5 C409.5,483 413.5,479 415,475 Z" fill="#1e8ad6"/><path d="M415,482 C416,485 418.5,487 418.5,491 A3.5,3.5 0 0 1 411.5,491 C411.5,487 414,485 415,482 Z" fill="#5db6ec"/><path d="M428,475 C429.5,479 433.5,483 433.5,489.5 A5.5,5.5 0 0 1 422.5,489.5 C422.5,483 426.5,479 428,475 Z" fill="#1e8ad6"/><path d="M428,482 C429,485 431.5,487 431.5,491 A3.5,3.5 0 0 1 424.5,491 C424.5,487 427,485 428,482 Z" fill="#5db6ec"/><path d="M612,475 C613.5,479 617.5,483 617.5,489.5 A5.5,5.5 0 0 1 606.5,489.5 C606.5,483 610.5,479 612,475 Z" fill="#1e8ad6"/><path d="M612,482 C613,485 615.5,487 615.5,491 A3.5,3.5 0 0 1 608.5,491 C608.5,487 611,485 612,482 Z" fill="#5db6ec"/><path d="M625,475 C626.5,479 630.5,483 630.5,489.5 A5.5,5.5 0 0 1 619.5,489.5 C619.5,483 623.5,479 625,475 Z" fill="#1e8ad6"/><path d="M625,482 C626,485 628.5,487 628.5,491 A3.5,3.5 0 0 1 621.5,491 C621.5,487 624,485 625,482 Z" fill="#5db6ec"/><path d="M638,475 C639.5,479 643.5,483 643.5,489.5 A5.5,5.5 0 0 1 632.5,489.5 C632.5,483 636.5,479 638,475 Z" fill="#1e8ad6"/><path d="M638,482 C639,485 641.5,487 641.5,491 A3.5,3.5 0 0 1 634.5,491 C634.5,487 637,485 638,482 Z" fill="#5db6ec"/>
</svg>
<div class="t" style="left:235.80px;top:15.99px;font-size:39px;font-weight:900;color:#5e178d;-webkit-text-stroke:0.7px #5e178d;transform:scale(0.9872,0.9103)">无极换档燃烧器</div>
<div class="t" style="left:520.28px;top:36.94px;font-size:21px;font-weight:700;color:#ffffff;transform:scale(1.0058,0.8762)">自动切换 温度无断层</div>
<div class="t" style="left:166.97px;top:134.05px;font-size:14px;font-weight:400;color:#2a2626;transform:scale(0.9333,0.9500)">℃</div>
<div class="t" style="left:169.92px;top:227.77px;font-size:14px;font-weight:400;color:#2a2626;transform:scale(1.0818,1.0100)">0°</div>
<div class="t" style="left:339.78px;top:228.16px;font-size:14px;font-weight:400;color:#2a2626;transform:scale(1.0167,0.9800)">L</div>
<div class="t" style="left:407.85px;top:133.34px;font-size:14px;font-weight:400;color:#2a2626;transform:scale(0.9500,0.9917)">℃</div>
<div class="t" style="left:410.81px;top:227.77px;font-size:14px;font-weight:400;color:#2a2626;transform:scale(1.0909,1.0100)">0°</div>
<div class="t" style="left:580.88px;top:228.16px;font-size:14px;font-weight:400;color:#2a2626;transform:scale(1.0167,0.9800)">L</div>
<div class="t" style="left:200.89px;top:197.37px;font-size:15.5px;font-weight:400;color:#2a2626;transform:scale(1.0100,0.9467)">小火</div>
<div class="t" style="left:243.25px;top:166.05px;font-size:15.5px;font-weight:400;color:#2a2626;transform:scale(1.0241,0.9125)">中火</div>
<div class="t" style="left:283.80px;top:134.44px;font-size:15.5px;font-weight:400;color:#2a2626;transform:scale(0.9967,0.9400)">大火</div>
<div class="t" style="left:438.92px;top:168.60px;font-size:15.5px;font-weight:400;color:#2a2626;transform:scale(0.9800,0.9600)">小火</div>
<div class="t" style="left:478.37px;top:145.18px;font-size:15.5px;font-weight:400;color:#2a2626;transform:scale(1.0172,0.8313)">中火</div>
<div class="t" style="left:527.59px;top:129.11px;font-size:15.5px;font-weight:400;color:#2a2626;transform:scale(1.0100,0.9467)">大火</div>
<div class="t" style="left:202.40px;top:245.54px;font-size:15px;font-weight:900;color:#0e0e0e;-webkit-text-stroke:0.2px #0e0e0e;transform:scale(0.9943,0.7529)">非无极换档燃烧</div>
<div class="t" style="left:457.90px;top:244.06px;font-size:15px;font-weight:900;color:#1766c2;-webkit-text-stroke:0.2px #1766c2;transform:scale(0.9900,0.7471)">无极换档燃烧</div>
<div class="t" style="left:183.00px;top:263.12px;font-size:13px;font-weight:400;color:#9c9c9c;transform:scale(1.0007,0.8692)">火力切换时温度急剧变化</div>
<div class="t" style="left:430.00px;top:263.12px;font-size:13px;font-weight:400;color:#9c9c9c;transform:scale(1.0000,0.8692)">火力切换时温度几乎不变</div>
<div class="t" style="left:91.90px;top:319.40px;font-size:12.8px;font-weight:700;color:#8c8c8c;transform:scale(0.9870,0.9000)">在小火、中火、大火等不同档位的过渡切换过程中，传统热水器无法避免温度的断层。能率精焰无极换</div>
<div class="t" style="left:91.90px;top:341.30px;font-size:12.8px;font-weight:700;color:#8c8c8c;transform:scale(0.9890,0.9000)">档燃烧器，能根据进水温度、水量及设定水温的情况，自动选择适合的火力，恒温与节能兼得。</div>
<div class="t" style="left:154.30px;top:478.70px;font-size:13px;font-weight:700;color:#9a9a9a;transform:scale(0.9615,0.9000)">小火</div>
<div class="t" style="left:378.05px;top:478.37px;font-size:13px;font-weight:700;color:#9a9a9a;transform:scale(0.9520,0.9077)">中火</div>
<div class="t" style="left:575.92px;top:478.79px;font-size:13px;font-weight:700;color:#9a9a9a;transform:scale(0.9840,0.8769)">大火</div>
<div class="t" style="left:239.35px;top:506.27px;font-size:12.5px;font-weight:700;color:#9a9a9a;text-spacing-trim:space-all;transform:scale(0.9897,0.9333)"><span style="position:relative;left:-3px">（</span>火排数仅为示意，实际数量以真实产品为准<span style="position:relative;left:3px">）</span></div>
</body></html>
